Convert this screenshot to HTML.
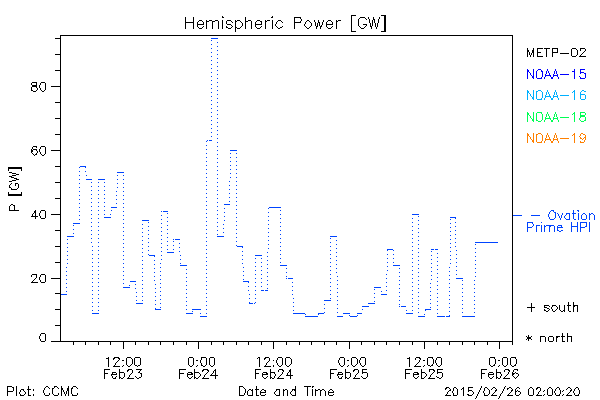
<!DOCTYPE html>
<html lang="en">
<head>
<meta charset="utf-8">
<title>Hemispheric Power [GW]</title>
<style>
html,body{margin:0;padding:0;background:#fff;}
body{width:600px;height:400px;overflow:hidden;font-family:"Liberation Sans",sans-serif;}
svg{display:block;}
</style>
</head>
<body>
<svg xmlns="http://www.w3.org/2000/svg" width="600" height="400" viewBox="0 0 600 400" shape-rendering="crispEdges" role="img">
<rect width="600" height="400" fill="#ffffff"/>
<g id="ovation-dotted" fill="#0044ff"><path d="M213 38h1v1h-1zM217 38h1v1h-1zM211 40h1v1h-1zM217 42h1v1h-1zM211 44h1v1h-1zM217 46h1v1h-1zM211 48h1v1h-1zM217 50h1v1h-1zM211 52h1v1h-1zM217 54h1v1h-1zM211 56h1v1h-1zM217 58h1v1h-1zM211 60h1v1h-1zM217 62h1v1h-1zM211 64h1v1h-1zM217 66h1v1h-1zM211 68h1v1h-1zM217 70h1v1h-1zM211 72h1v1h-1zM217 74h1v1h-1zM211 76h1v1h-1zM217 78h1v1h-1zM211 80h1v1h-1zM217 82h1v1h-1zM211 84h1v1h-1zM217 86h1v1h-1zM211 88h1v1h-1zM217 90h1v1h-1zM211 92h1v1h-1zM217 94h1v1h-1zM211 96h1v1h-1zM217 98h1v1h-1zM211 100h1v1h-1zM217 102h1v1h-1zM211 104h1v1h-1zM217 106h1v1h-1zM211 108h1v1h-1zM217 110h1v1h-1zM211 112h1v1h-1zM217 114h1v1h-1zM211 116h1v1h-1zM217 118h1v1h-1zM211 120h1v1h-1zM217 122h1v1h-1zM211 124h1v1h-1zM217 126h1v1h-1zM211 128h1v1h-1zM217 130h1v1h-1zM211 132h1v1h-1zM217 134h1v1h-1zM211 136h1v1h-1zM217 138h1v1h-1zM207 140h1v1h-1zM211 140h1v1h-1zM206 141h1v1h-1zM217 142h1v1h-1zM206 145h1v1h-1zM217 146h1v1h-1zM206 149h1v1h-1zM217 150h1v1h-1zM231 150h1v1h-1zM235 150h1v1h-1zM206 153h1v1h-1zM230 153h1v1h-1zM236 153h1v1h-1zM217 154h1v1h-1zM206 157h1v1h-1zM230 157h1v1h-1zM236 157h1v1h-1zM217 158h1v1h-1zM206 161h1v1h-1zM230 161h1v1h-1zM236 161h1v1h-1zM217 162h1v1h-1zM206 165h1v1h-1zM230 165h1v1h-1zM236 165h1v1h-1zM82 166h1v1h-1zM217 166h1v1h-1zM79 167h1v1h-1zM85 167h1v1h-1zM206 169h1v1h-1zM230 169h1v1h-1zM236 169h1v1h-1zM217 170h1v1h-1zM79 171h1v1h-1zM85 171h1v1h-1zM118 172h1v1h-1zM122 172h1v1h-1zM206 173h1v1h-1zM230 173h1v1h-1zM236 173h1v1h-1zM217 174h1v1h-1zM79 175h1v1h-1zM86 175h1v1h-1zM117 175h1v1h-1zM123 175h1v1h-1zM206 177h1v1h-1zM230 177h1v1h-1zM236 177h1v1h-1zM217 178h1v1h-1zM79 179h1v1h-1zM86 179h1v1h-1zM90 179h1v1h-1zM99 179h1v1h-1zM103 179h1v1h-1zM117 179h1v1h-1zM123 179h1v1h-1zM206 181h1v1h-1zM229 181h1v1h-1zM236 181h1v1h-1zM91 182h1v1h-1zM98 182h1v1h-1zM104 182h1v1h-1zM217 182h1v1h-1zM79 183h1v1h-1zM117 183h1v1h-1zM123 183h1v1h-1zM206 185h1v1h-1zM229 185h1v1h-1zM236 185h1v1h-1zM91 186h1v1h-1zM98 186h1v1h-1zM104 186h1v1h-1zM217 186h1v1h-1zM79 187h1v1h-1zM117 187h1v1h-1zM123 187h1v1h-1zM206 189h1v1h-1zM229 189h1v1h-1zM236 189h1v1h-1zM91 190h1v1h-1zM98 190h1v1h-1zM104 190h1v1h-1zM217 190h1v1h-1zM79 191h1v1h-1zM116 191h1v1h-1zM123 191h1v1h-1zM206 193h1v1h-1zM229 193h1v1h-1zM236 193h1v1h-1zM91 194h1v1h-1zM98 194h1v1h-1zM104 194h1v1h-1zM217 194h1v1h-1zM79 195h1v1h-1zM116 195h1v1h-1zM123 195h1v1h-1zM206 197h1v1h-1zM229 197h1v1h-1zM236 197h1v1h-1zM91 198h1v1h-1zM98 198h1v1h-1zM104 198h1v1h-1zM217 198h1v1h-1zM79 199h1v1h-1zM116 199h1v1h-1zM123 199h1v1h-1zM206 201h1v1h-1zM229 201h1v1h-1zM236 201h1v1h-1zM91 202h1v1h-1zM98 202h1v1h-1zM104 202h1v1h-1zM217 202h1v1h-1zM79 203h1v1h-1zM116 203h1v1h-1zM123 203h1v1h-1zM224 204h1v1h-1zM228 204h1v1h-1zM206 205h1v1h-1zM236 205h1v1h-1zM91 206h1v1h-1zM98 206h1v1h-1zM104 206h1v1h-1zM217 206h1v1h-1zM79 207h1v1h-1zM112 207h1v1h-1zM116 207h1v1h-1zM123 207h1v1h-1zM271 207h1v1h-1zM275 207h1v1h-1zM279 207h1v1h-1zM224 208h1v1h-1zM268 208h1v1h-1zM206 209h1v1h-1zM236 209h1v1h-1zM91 210h1v1h-1zM98 210h1v1h-1zM104 210h1v1h-1zM111 210h1v1h-1zM217 210h1v1h-1zM280 210h1v1h-1zM79 211h1v1h-1zM123 211h1v1h-1zM161 211h1v1h-1zM165 211h1v1h-1zM224 212h1v1h-1zM268 212h1v1h-1zM167 213h1v1h-1zM206 213h1v1h-1zM236 213h1v1h-1zM91 214h1v1h-1zM98 214h1v1h-1zM104 214h1v1h-1zM110 214h1v1h-1zM217 214h1v1h-1zM280 214h1v1h-1zM412 214h1v1h-1zM416 214h1v1h-1zM79 215h1v1h-1zM123 215h1v1h-1zM161 215h1v1h-1zM224 216h1v1h-1zM268 216h1v1h-1zM418 216h1v1h-1zM105 217h1v1h-1zM109 217h1v1h-1zM167 217h1v1h-1zM206 217h1v1h-1zM236 217h1v1h-1zM452 217h1v1h-1zM91 218h1v1h-1zM98 218h1v1h-1zM217 218h1v1h-1zM280 218h1v1h-1zM412 218h1v1h-1zM455 218h1v1h-1zM79 219h1v1h-1zM123 219h1v1h-1zM161 219h1v1h-1zM450 219h1v1h-1zM142 220h1v1h-1zM146 220h1v1h-1zM224 220h1v1h-1zM268 220h1v1h-1zM418 220h1v1h-1zM167 221h1v1h-1zM206 221h1v1h-1zM236 221h1v1h-1zM91 222h1v1h-1zM98 222h1v1h-1zM148 222h1v1h-1zM217 222h1v1h-1zM280 222h1v1h-1zM412 222h1v1h-1zM455 222h1v1h-1zM75 223h1v1h-1zM79 223h1v1h-1zM123 223h1v1h-1zM161 223h1v1h-1zM450 223h1v1h-1zM142 224h1v1h-1zM223 224h1v1h-1zM268 224h1v1h-1zM418 224h1v1h-1zM73 225h1v1h-1zM167 225h1v1h-1zM206 225h1v1h-1zM236 225h1v1h-1zM91 226h1v1h-1zM98 226h1v1h-1zM148 226h1v1h-1zM217 226h1v1h-1zM280 226h1v1h-1zM412 226h1v1h-1zM455 226h1v1h-1zM123 227h1v1h-1zM161 227h1v1h-1zM450 227h1v1h-1zM142 228h1v1h-1zM223 228h1v1h-1zM268 228h1v1h-1zM418 228h1v1h-1zM73 229h1v1h-1zM167 229h1v1h-1zM206 229h1v1h-1zM236 229h1v1h-1zM91 230h1v1h-1zM98 230h1v1h-1zM148 230h1v1h-1zM217 230h1v1h-1zM280 230h1v1h-1zM412 230h1v1h-1zM455 230h1v1h-1zM123 231h1v1h-1zM161 231h1v1h-1zM450 231h1v1h-1zM142 232h1v1h-1zM223 232h1v1h-1zM268 232h1v1h-1zM418 232h1v1h-1zM73 233h1v1h-1zM167 233h1v1h-1zM206 233h1v1h-1zM236 233h1v1h-1zM91 234h1v1h-1zM98 234h1v1h-1zM148 234h1v1h-1zM217 234h1v1h-1zM280 234h1v1h-1zM412 234h1v1h-1zM455 234h1v1h-1zM123 235h1v1h-1zM161 235h1v1h-1zM450 235h1v1h-1zM68 236h1v1h-1zM72 236h1v1h-1zM142 236h1v1h-1zM219 236h1v1h-1zM223 236h1v1h-1zM268 236h1v1h-1zM332 236h1v1h-1zM336 236h1v1h-1zM418 236h1v1h-1zM167 237h1v1h-1zM206 237h1v1h-1zM236 237h1v1h-1zM91 238h1v1h-1zM98 238h1v1h-1zM148 238h1v1h-1zM280 238h1v1h-1zM330 238h1v1h-1zM412 238h1v1h-1zM455 238h1v1h-1zM67 239h1v1h-1zM123 239h1v1h-1zM161 239h1v1h-1zM175 239h1v1h-1zM179 239h1v1h-1zM450 239h1v1h-1zM142 240h1v1h-1zM268 240h1v1h-1zM336 240h1v1h-1zM418 240h1v1h-1zM167 241h1v1h-1zM173 241h1v1h-1zM206 241h1v1h-1zM236 241h1v1h-1zM91 242h1v1h-1zM98 242h1v1h-1zM148 242h1v1h-1zM280 242h1v1h-1zM330 242h1v1h-1zM412 242h1v1h-1zM455 242h1v1h-1zM477 242h1v1h-1zM481 242h1v1h-1zM485 242h1v1h-1zM489 242h1v1h-1zM493 242h1v1h-1zM497 242h1v1h-1zM67 243h1v1h-1zM123 243h1v1h-1zM161 243h1v1h-1zM179 243h1v1h-1zM450 243h1v1h-1zM142 244h1v1h-1zM268 244h1v1h-1zM336 244h1v1h-1zM418 244h1v1h-1zM475 244h1v1h-1zM167 245h1v1h-1zM173 245h1v1h-1zM206 245h1v1h-1zM236 245h1v1h-1zM92 246h1v1h-1zM98 246h1v1h-1zM148 246h1v1h-1zM239 246h1v1h-1zM280 246h1v1h-1zM330 246h1v1h-1zM412 246h1v1h-1zM455 246h1v1h-1zM67 247h1v1h-1zM123 247h1v1h-1zM161 247h1v1h-1zM179 247h1v1h-1zM242 247h1v1h-1zM450 247h1v1h-1zM142 248h1v1h-1zM268 248h1v1h-1zM336 248h1v1h-1zM418 248h1v1h-1zM475 248h1v1h-1zM167 249h1v1h-1zM173 249h1v1h-1zM206 249h1v1h-1zM390 249h1v1h-1zM433 249h1v1h-1zM437 249h1v1h-1zM92 250h1v1h-1zM98 250h1v1h-1zM148 250h1v1h-1zM280 250h1v1h-1zM330 250h1v1h-1zM387 250h1v1h-1zM393 250h1v1h-1zM412 250h1v1h-1zM456 250h1v1h-1zM67 251h1v1h-1zM123 251h1v1h-1zM161 251h1v1h-1zM179 251h1v1h-1zM242 251h1v1h-1zM431 251h1v1h-1zM450 251h1v1h-1zM142 252h1v1h-1zM168 252h1v1h-1zM172 252h1v1h-1zM267 252h1v1h-1zM336 252h1v1h-1zM418 252h1v1h-1zM475 252h1v1h-1zM206 253h1v1h-1zM437 253h1v1h-1zM92 254h1v1h-1zM98 254h1v1h-1zM148 254h1v1h-1zM280 254h1v1h-1zM330 254h1v1h-1zM387 254h1v1h-1zM393 254h1v1h-1zM412 254h1v1h-1zM456 254h1v1h-1zM67 255h1v1h-1zM123 255h1v1h-1zM151 255h1v1h-1zM161 255h1v1h-1zM180 255h1v1h-1zM242 255h1v1h-1zM256 255h1v1h-1zM260 255h1v1h-1zM431 255h1v1h-1zM450 255h1v1h-1zM142 256h1v1h-1zM154 256h1v1h-1zM267 256h1v1h-1zM336 256h1v1h-1zM418 256h1v1h-1zM475 256h1v1h-1zM206 257h1v1h-1zM437 257h1v1h-1zM92 258h1v1h-1zM98 258h1v1h-1zM255 258h1v1h-1zM261 258h1v1h-1zM280 258h1v1h-1zM330 258h1v1h-1zM387 258h1v1h-1zM393 258h1v1h-1zM412 258h1v1h-1zM456 258h1v1h-1zM67 259h1v1h-1zM123 259h1v1h-1zM161 259h1v1h-1zM180 259h1v1h-1zM242 259h1v1h-1zM431 259h1v1h-1zM450 259h1v1h-1zM142 260h1v1h-1zM154 260h1v1h-1zM267 260h1v1h-1zM336 260h1v1h-1zM418 260h1v1h-1zM475 260h1v1h-1zM206 261h1v1h-1zM437 261h1v1h-1zM92 262h1v1h-1zM98 262h1v1h-1zM255 262h1v1h-1zM261 262h1v1h-1zM280 262h1v1h-1zM330 262h1v1h-1zM387 262h1v1h-1zM393 262h1v1h-1zM412 262h1v1h-1zM456 262h1v1h-1zM67 263h1v1h-1zM123 263h1v1h-1zM160 263h1v1h-1zM180 263h1v1h-1zM242 263h1v1h-1zM431 263h1v1h-1zM450 263h1v1h-1zM142 264h1v1h-1zM154 264h1v1h-1zM267 264h1v1h-1zM336 264h1v1h-1zM418 264h1v1h-1zM475 264h1v1h-1zM182 265h1v1h-1zM186 265h1v1h-1zM206 265h1v1h-1zM281 265h1v1h-1zM285 265h1v1h-1zM394 265h1v1h-1zM398 265h1v1h-1zM437 265h1v1h-1zM92 266h1v1h-1zM98 266h1v1h-1zM255 266h1v1h-1zM261 266h1v1h-1zM330 266h1v1h-1zM387 266h1v1h-1zM412 266h1v1h-1zM456 266h1v1h-1zM66 267h1v1h-1zM123 267h1v1h-1zM160 267h1v1h-1zM243 267h1v1h-1zM431 267h1v1h-1zM449 267h1v1h-1zM142 268h1v1h-1zM154 268h1v1h-1zM267 268h1v1h-1zM286 268h1v1h-1zM336 268h1v1h-1zM399 268h1v1h-1zM418 268h1v1h-1zM475 268h1v1h-1zM186 269h1v1h-1zM206 269h1v1h-1zM437 269h1v1h-1zM92 270h1v1h-1zM98 270h1v1h-1zM255 270h1v1h-1zM261 270h1v1h-1zM330 270h1v1h-1zM387 270h1v1h-1zM412 270h1v1h-1zM456 270h1v1h-1zM66 271h1v1h-1zM123 271h1v1h-1zM160 271h1v1h-1zM243 271h1v1h-1zM431 271h1v1h-1zM449 271h1v1h-1zM142 272h1v1h-1zM154 272h1v1h-1zM267 272h1v1h-1zM286 272h1v1h-1zM336 272h1v1h-1zM399 272h1v1h-1zM418 272h1v1h-1zM475 272h1v1h-1zM186 273h1v1h-1zM206 273h1v1h-1zM437 273h1v1h-1zM92 274h1v1h-1zM98 274h1v1h-1zM255 274h1v1h-1zM261 274h1v1h-1zM330 274h1v1h-1zM386 274h1v1h-1zM412 274h1v1h-1zM456 274h1v1h-1zM66 275h1v1h-1zM123 275h1v1h-1zM160 275h1v1h-1zM243 275h1v1h-1zM431 275h1v1h-1zM449 275h1v1h-1zM142 276h1v1h-1zM154 276h1v1h-1zM267 276h1v1h-1zM286 276h1v1h-1zM337 276h1v1h-1zM399 276h1v1h-1zM418 276h1v1h-1zM475 276h1v1h-1zM186 277h1v1h-1zM206 277h1v1h-1zM437 277h1v1h-1zM92 278h1v1h-1zM98 278h1v1h-1zM255 278h1v1h-1zM261 278h1v1h-1zM288 278h1v1h-1zM292 278h1v1h-1zM330 278h1v1h-1zM386 278h1v1h-1zM412 278h1v1h-1zM456 278h1v1h-1zM460 278h1v1h-1zM66 279h1v1h-1zM123 279h1v1h-1zM160 279h1v1h-1zM243 279h1v1h-1zM431 279h1v1h-1zM449 279h1v1h-1zM142 280h1v1h-1zM154 280h1v1h-1zM267 280h1v1h-1zM337 280h1v1h-1zM399 280h1v1h-1zM418 280h1v1h-1zM462 280h1v1h-1zM474 280h1v1h-1zM130 281h1v1h-1zM134 281h1v1h-1zM186 281h1v1h-1zM206 281h1v1h-1zM245 281h1v1h-1zM437 281h1v1h-1zM92 282h1v1h-1zM98 282h1v1h-1zM248 282h1v1h-1zM255 282h1v1h-1zM261 282h1v1h-1zM292 282h1v1h-1zM330 282h1v1h-1zM386 282h1v1h-1zM412 282h1v1h-1zM66 283h1v1h-1zM123 283h1v1h-1zM160 283h1v1h-1zM430 283h1v1h-1zM449 283h1v1h-1zM135 284h1v1h-1zM142 284h1v1h-1zM155 284h1v1h-1zM267 284h1v1h-1zM337 284h1v1h-1zM399 284h1v1h-1zM418 284h1v1h-1zM462 284h1v1h-1zM474 284h1v1h-1zM129 285h1v1h-1zM186 285h1v1h-1zM206 285h1v1h-1zM437 285h1v1h-1zM92 286h1v1h-1zM98 286h1v1h-1zM248 286h1v1h-1zM255 286h1v1h-1zM261 286h1v1h-1zM292 286h1v1h-1zM330 286h1v1h-1zM386 286h1v1h-1zM412 286h1v1h-1zM66 287h1v1h-1zM123 287h1v1h-1zM127 287h1v1h-1zM160 287h1v1h-1zM376 287h1v1h-1zM380 287h1v1h-1zM430 287h1v1h-1zM449 287h1v1h-1zM135 288h1v1h-1zM142 288h1v1h-1zM155 288h1v1h-1zM267 288h1v1h-1zM337 288h1v1h-1zM399 288h1v1h-1zM418 288h1v1h-1zM462 288h1v1h-1zM474 288h1v1h-1zM186 289h1v1h-1zM206 289h1v1h-1zM374 289h1v1h-1zM437 289h1v1h-1zM92 290h1v1h-1zM98 290h1v1h-1zM248 290h1v1h-1zM255 290h1v1h-1zM261 290h1v1h-1zM265 290h1v1h-1zM292 290h1v1h-1zM330 290h1v1h-1zM386 290h1v1h-1zM412 290h1v1h-1zM66 291h1v1h-1zM160 291h1v1h-1zM381 291h1v1h-1zM430 291h1v1h-1zM449 291h1v1h-1zM136 292h1v1h-1zM142 292h1v1h-1zM155 292h1v1h-1zM337 292h1v1h-1zM399 292h1v1h-1zM418 292h1v1h-1zM462 292h1v1h-1zM474 292h1v1h-1zM186 293h1v1h-1zM206 293h1v1h-1zM374 293h1v1h-1zM437 293h1v1h-1zM61 294h1v1h-1zM65 294h1v1h-1zM92 294h1v1h-1zM98 294h1v1h-1zM249 294h1v1h-1zM255 294h1v1h-1zM292 294h1v1h-1zM330 294h1v1h-1zM382 294h1v1h-1zM386 294h1v1h-1zM412 294h1v1h-1zM160 295h1v1h-1zM430 295h1v1h-1zM449 295h1v1h-1zM136 296h1v1h-1zM142 296h1v1h-1zM155 296h1v1h-1zM337 296h1v1h-1zM399 296h1v1h-1zM418 296h1v1h-1zM462 296h1v1h-1zM474 296h1v1h-1zM186 297h1v1h-1zM206 297h1v1h-1zM374 297h1v1h-1zM437 297h1v1h-1zM92 298h1v1h-1zM98 298h1v1h-1zM249 298h1v1h-1zM255 298h1v1h-1zM293 298h1v1h-1zM330 298h1v1h-1zM412 298h1v1h-1zM160 299h1v1h-1zM430 299h1v1h-1zM449 299h1v1h-1zM136 300h1v1h-1zM142 300h1v1h-1zM155 300h1v1h-1zM324 300h1v1h-1zM328 300h1v1h-1zM337 300h1v1h-1zM399 300h1v1h-1zM418 300h1v1h-1zM462 300h1v1h-1zM474 300h1v1h-1zM186 301h1v1h-1zM206 301h1v1h-1zM374 301h1v1h-1zM437 301h1v1h-1zM92 302h1v1h-1zM98 302h1v1h-1zM249 302h1v1h-1zM255 302h1v1h-1zM293 302h1v1h-1zM412 302h1v1h-1zM137 303h1v1h-1zM141 303h1v1h-1zM160 303h1v1h-1zM252 303h1v1h-1zM368 303h1v1h-1zM372 303h1v1h-1zM430 303h1v1h-1zM449 303h1v1h-1zM155 304h1v1h-1zM324 304h1v1h-1zM337 304h1v1h-1zM399 304h1v1h-1zM418 304h1v1h-1zM462 304h1v1h-1zM474 304h1v1h-1zM186 305h1v1h-1zM206 305h1v1h-1zM437 305h1v1h-1zM92 306h1v1h-1zM98 306h1v1h-1zM293 306h1v1h-1zM363 306h1v1h-1zM367 306h1v1h-1zM401 306h1v1h-1zM405 306h1v1h-1zM412 306h1v1h-1zM160 307h1v1h-1zM430 307h1v1h-1zM449 307h1v1h-1zM155 308h1v1h-1zM324 308h1v1h-1zM337 308h1v1h-1zM418 308h1v1h-1zM462 308h1v1h-1zM474 308h1v1h-1zM158 309h1v1h-1zM186 309h1v1h-1zM194 309h1v1h-1zM198 309h1v1h-1zM206 309h1v1h-1zM362 309h1v1h-1zM428 309h1v1h-1zM437 309h1v1h-1zM92 310h1v1h-1zM98 310h1v1h-1zM293 310h1v1h-1zM406 310h1v1h-1zM412 310h1v1h-1zM425 310h1v1h-1zM192 311h1v1h-1zM449 311h1v1h-1zM324 312h1v1h-1zM337 312h1v1h-1zM418 312h1v1h-1zM462 312h1v1h-1zM474 312h1v1h-1zM93 313h1v1h-1zM97 313h1v1h-1zM186 313h1v1h-1zM190 313h1v1h-1zM200 313h1v1h-1zM206 313h1v1h-1zM294 313h1v1h-1zM298 313h1v1h-1zM302 313h1v1h-1zM321 313h1v1h-1zM343 313h1v1h-1zM347 313h1v1h-1zM359 313h1v1h-1zM407 313h1v1h-1zM411 313h1v1h-1zM437 313h1v1h-1zM305 314h1v1h-1zM318 314h1v1h-1zM424 314h1v1h-1zM349 315h1v1h-1zM357 315h1v1h-1zM449 315h1v1h-1zM201 316h1v1h-1zM205 316h1v1h-1zM307 316h1v1h-1zM311 316h1v1h-1zM315 316h1v1h-1zM337 316h1v1h-1zM341 316h1v1h-1zM353 316h1v1h-1zM418 316h1v1h-1zM422 316h1v1h-1zM438 316h1v1h-1zM442 316h1v1h-1zM446 316h1v1h-1zM462 316h1v1h-1zM466 316h1v1h-1zM470 316h1v1h-1zM474 316h1v1h-1z"/></g>
<g id="ovation-bars" fill="#0044ff"><path d="M211 38h7v1h-7zM209 140h3v1h-3zM230 150h7v1h-7zM80 166h6v1h-6zM117 172h7v1h-7zM86 179h6v1h-6zM98 179h7v1h-7zM224 204h6v1h-6zM111 207h6v1h-6zM269 207h12v1h-12zM161 211h1v1h-1zM163 211h5v1h-5zM412 214h7v1h-7zM513 215h9v1h-9zM104 217h7v1h-7zM450 217h6v1h-6zM142 220h7v1h-7zM73 223h7v1h-7zM67 236h7v1h-7zM217 236h7v1h-7zM330 236h7v1h-7zM173 239h1v1h-1zM175 239h5v1h-5zM475 242h23v1h-23zM237 246h6v1h-6zM387 249h6v1h-6zM431 249h3v1h-3zM435 249h3v1h-3zM167 252h7v1h-7zM149 255h6v1h-6zM255 255h7v1h-7zM180 265h7v1h-7zM280 265h7v1h-7zM393 265h7v1h-7zM286 278h1v1h-1zM288 278h5v1h-5zM456 278h7v1h-7zM130 281h6v1h-6zM243 281h6v1h-6zM123 287h7v1h-7zM374 287h7v1h-7zM261 290h3v1h-3zM265 290h3v1h-3zM60 294h7v1h-7zM381 294h6v1h-6zM324 300h7v1h-7zM136 303h7v1h-7zM249 303h4v1h-4zM254 303h1v1h-1zM368 303h7v1h-7zM362 306h7v1h-7zM399 306h1v1h-1zM401 306h5v1h-5zM155 309h6v1h-6zM192 309h9v1h-9zM425 309h6v1h-6zM92 313h7v1h-7zM186 313h7v1h-7zM293 313h12v1h-12zM318 313h6v1h-6zM343 313h7v1h-7zM357 313h5v1h-5zM406 313h7v1h-7zM200 316h7v1h-7zM305 316h13v1h-13zM337 316h6v1h-6zM350 316h7v1h-7zM418 316h7v1h-7zM437 316h8v1h-8zM446 316h4v1h-4zM462 316h13v1h-13z"/></g>
<g id="axes" fill="#000000"><path d="M60 35h453v1h-453zM60 36h1v1h-1zM512 36h1v1h-1zM60 37h1v1h-1zM512 37h1v1h-1zM55 38h6v1h-6zM512 38h1v1h-1zM60 39h1v1h-1zM512 39h1v1h-1zM60 40h1v1h-1zM512 40h1v1h-1zM60 41h1v1h-1zM512 41h1v1h-1zM60 42h1v1h-1zM512 42h1v1h-1zM60 43h1v1h-1zM512 43h1v1h-1zM60 44h1v1h-1zM512 44h1v1h-1zM60 45h1v1h-1zM512 45h1v1h-1zM60 46h1v1h-1zM512 46h1v1h-1zM60 47h1v1h-1zM512 47h1v1h-1zM60 48h1v1h-1zM512 48h1v1h-1zM60 49h1v1h-1zM512 49h1v1h-1zM60 50h1v1h-1zM512 50h1v1h-1zM60 51h1v1h-1zM512 51h1v1h-1zM60 52h1v1h-1zM512 52h1v1h-1zM60 53h1v1h-1zM512 53h1v1h-1zM55 54h6v1h-6zM512 54h1v1h-1zM60 55h1v1h-1zM512 55h1v1h-1zM60 56h1v1h-1zM512 56h1v1h-1zM60 57h1v1h-1zM512 57h1v1h-1zM60 58h1v1h-1zM512 58h1v1h-1zM60 59h1v1h-1zM512 59h1v1h-1zM60 60h1v1h-1zM512 60h1v1h-1zM60 61h1v1h-1zM512 61h1v1h-1zM60 62h1v1h-1zM512 62h1v1h-1zM60 63h1v1h-1zM512 63h1v1h-1zM60 64h1v1h-1zM512 64h1v1h-1zM60 65h1v1h-1zM512 65h1v1h-1zM60 66h1v1h-1zM512 66h1v1h-1zM60 67h1v1h-1zM512 67h1v1h-1zM60 68h1v1h-1zM512 68h1v1h-1zM60 69h1v1h-1zM512 69h1v1h-1zM55 70h6v1h-6zM512 70h1v1h-1zM60 71h1v1h-1zM512 71h1v1h-1zM60 72h1v1h-1zM512 72h1v1h-1zM60 73h1v1h-1zM512 73h1v1h-1zM60 74h1v1h-1zM512 74h1v1h-1zM60 75h1v1h-1zM512 75h1v1h-1zM60 76h1v1h-1zM512 76h1v1h-1zM60 77h1v1h-1zM512 77h1v1h-1zM60 78h1v1h-1zM512 78h1v1h-1zM60 79h1v1h-1zM512 79h1v1h-1zM60 80h1v1h-1zM512 80h1v1h-1zM60 81h1v1h-1zM512 81h1v1h-1zM60 82h1v1h-1zM512 82h1v1h-1zM60 83h1v1h-1zM512 83h1v1h-1zM60 84h1v1h-1zM512 84h1v1h-1zM60 85h1v1h-1zM512 85h1v1h-1zM51 86h10v1h-10zM512 86h1v1h-1zM60 87h1v1h-1zM512 87h1v1h-1zM60 88h1v1h-1zM512 88h1v1h-1zM60 89h1v1h-1zM512 89h1v1h-1zM60 90h1v1h-1zM512 90h1v1h-1zM60 91h1v1h-1zM512 91h1v1h-1zM60 92h1v1h-1zM512 92h1v1h-1zM60 93h1v1h-1zM512 93h1v1h-1zM60 94h1v1h-1zM512 94h1v1h-1zM60 95h1v1h-1zM512 95h1v1h-1zM60 96h1v1h-1zM512 96h1v1h-1zM60 97h1v1h-1zM512 97h1v1h-1zM60 98h1v1h-1zM512 98h1v1h-1zM60 99h1v1h-1zM512 99h1v1h-1zM60 100h1v1h-1zM512 100h1v1h-1zM60 101h1v1h-1zM512 101h1v1h-1zM55 102h6v1h-6zM512 102h1v1h-1zM60 103h1v1h-1zM512 103h1v1h-1zM60 104h1v1h-1zM512 104h1v1h-1zM60 105h1v1h-1zM512 105h1v1h-1zM60 106h1v1h-1zM512 106h1v1h-1zM60 107h1v1h-1zM512 107h1v1h-1zM60 108h1v1h-1zM512 108h1v1h-1zM60 109h1v1h-1zM512 109h1v1h-1zM60 110h1v1h-1zM512 110h1v1h-1zM60 111h1v1h-1zM512 111h1v1h-1zM60 112h1v1h-1zM512 112h1v1h-1zM60 113h1v1h-1zM512 113h1v1h-1zM60 114h1v1h-1zM512 114h1v1h-1zM60 115h1v1h-1zM512 115h1v1h-1zM60 116h1v1h-1zM512 116h1v1h-1zM60 117h1v1h-1zM512 117h1v1h-1zM55 118h6v1h-6zM512 118h1v1h-1zM60 119h1v1h-1zM512 119h1v1h-1zM60 120h1v1h-1zM512 120h1v1h-1zM60 121h1v1h-1zM512 121h1v1h-1zM60 122h1v1h-1zM512 122h1v1h-1zM60 123h1v1h-1zM512 123h1v1h-1zM60 124h1v1h-1zM512 124h1v1h-1zM60 125h1v1h-1zM512 125h1v1h-1zM60 126h1v1h-1zM512 126h1v1h-1zM60 127h1v1h-1zM512 127h1v1h-1zM60 128h1v1h-1zM512 128h1v1h-1zM60 129h1v1h-1zM512 129h1v1h-1zM60 130h1v1h-1zM512 130h1v1h-1zM60 131h1v1h-1zM512 131h1v1h-1zM60 132h1v1h-1zM512 132h1v1h-1zM60 133h1v1h-1zM512 133h1v1h-1zM55 134h6v1h-6zM512 134h1v1h-1zM60 135h1v1h-1zM512 135h1v1h-1zM60 136h1v1h-1zM512 136h1v1h-1zM60 137h1v1h-1zM512 137h1v1h-1zM60 138h1v1h-1zM512 138h1v1h-1zM60 139h1v1h-1zM512 139h1v1h-1zM60 140h1v1h-1zM512 140h1v1h-1zM60 141h1v1h-1zM512 141h1v1h-1zM60 142h1v1h-1zM512 142h1v1h-1zM60 143h1v1h-1zM512 143h1v1h-1zM60 144h1v1h-1zM512 144h1v1h-1zM60 145h1v1h-1zM512 145h1v1h-1zM60 146h1v1h-1zM512 146h1v1h-1zM60 147h1v1h-1zM512 147h1v1h-1zM60 148h1v1h-1zM512 148h1v1h-1zM60 149h1v1h-1zM512 149h1v1h-1zM51 150h10v1h-10zM512 150h1v1h-1zM60 151h1v1h-1zM512 151h1v1h-1zM60 152h1v1h-1zM512 152h1v1h-1zM60 153h1v1h-1zM512 153h1v1h-1zM60 154h1v1h-1zM512 154h1v1h-1zM60 155h1v1h-1zM512 155h1v1h-1zM60 156h1v1h-1zM512 156h1v1h-1zM60 157h1v1h-1zM512 157h1v1h-1zM60 158h1v1h-1zM512 158h1v1h-1zM60 159h1v1h-1zM512 159h1v1h-1zM60 160h1v1h-1zM512 160h1v1h-1zM60 161h1v1h-1zM512 161h1v1h-1zM60 162h1v1h-1zM512 162h1v1h-1zM60 163h1v1h-1zM512 163h1v1h-1zM60 164h1v1h-1zM512 164h1v1h-1zM60 165h1v1h-1zM512 165h1v1h-1zM55 166h6v1h-6zM512 166h1v1h-1zM60 167h1v1h-1zM512 167h1v1h-1zM60 168h1v1h-1zM512 168h1v1h-1zM60 169h1v1h-1zM512 169h1v1h-1zM60 170h1v1h-1zM512 170h1v1h-1zM60 171h1v1h-1zM512 171h1v1h-1zM60 172h1v1h-1zM512 172h1v1h-1zM60 173h1v1h-1zM512 173h1v1h-1zM60 174h1v1h-1zM512 174h1v1h-1zM60 175h1v1h-1zM512 175h1v1h-1zM60 176h1v1h-1zM512 176h1v1h-1zM60 177h1v1h-1zM512 177h1v1h-1zM60 178h1v1h-1zM512 178h1v1h-1zM60 179h1v1h-1zM512 179h1v1h-1zM60 180h1v1h-1zM512 180h1v1h-1zM60 181h1v1h-1zM512 181h1v1h-1zM55 182h6v1h-6zM512 182h1v1h-1zM60 183h1v1h-1zM512 183h1v1h-1zM60 184h1v1h-1zM512 184h1v1h-1zM60 185h1v1h-1zM512 185h1v1h-1zM60 186h1v1h-1zM512 186h1v1h-1zM60 187h1v1h-1zM512 187h1v1h-1zM60 188h1v1h-1zM512 188h1v1h-1zM60 189h1v1h-1zM512 189h1v1h-1zM60 190h1v1h-1zM512 190h1v1h-1zM60 191h1v1h-1zM512 191h1v1h-1zM60 192h1v1h-1zM512 192h1v1h-1zM60 193h1v1h-1zM512 193h1v1h-1zM60 194h1v1h-1zM512 194h1v1h-1zM60 195h1v1h-1zM512 195h1v1h-1zM60 196h1v1h-1zM512 196h1v1h-1zM60 197h1v1h-1zM512 197h1v1h-1zM55 198h6v1h-6zM512 198h1v1h-1zM60 199h1v1h-1zM512 199h1v1h-1zM60 200h1v1h-1zM512 200h1v1h-1zM60 201h1v1h-1zM512 201h1v1h-1zM60 202h1v1h-1zM512 202h1v1h-1zM60 203h1v1h-1zM512 203h1v1h-1zM60 204h1v1h-1zM512 204h1v1h-1zM60 205h1v1h-1zM512 205h1v1h-1zM60 206h1v1h-1zM512 206h1v1h-1zM60 207h1v1h-1zM512 207h1v1h-1zM60 208h1v1h-1zM512 208h1v1h-1zM60 209h1v1h-1zM512 209h1v1h-1zM60 210h1v1h-1zM512 210h1v1h-1zM60 211h1v1h-1zM512 211h1v1h-1zM60 212h1v1h-1zM512 212h1v1h-1zM60 213h1v1h-1zM512 213h1v1h-1zM51 214h10v1h-10zM512 214h1v1h-1zM60 215h1v1h-1zM512 215h1v1h-1zM60 216h1v1h-1zM512 216h1v1h-1zM60 217h1v1h-1zM512 217h1v1h-1zM60 218h1v1h-1zM512 218h1v1h-1zM60 219h1v1h-1zM512 219h1v1h-1zM60 220h1v1h-1zM512 220h1v1h-1zM60 221h1v1h-1zM512 221h1v1h-1zM60 222h1v1h-1zM512 222h1v1h-1zM60 223h1v1h-1zM512 223h1v1h-1zM60 224h1v1h-1zM512 224h1v1h-1zM60 225h1v1h-1zM512 225h1v1h-1zM60 226h1v1h-1zM512 226h1v1h-1zM60 227h1v1h-1zM512 227h1v1h-1zM60 228h1v1h-1zM512 228h1v1h-1zM60 229h1v1h-1zM512 229h1v1h-1zM55 230h6v1h-6zM512 230h1v1h-1zM60 231h1v1h-1zM512 231h1v1h-1zM60 232h1v1h-1zM512 232h1v1h-1zM60 233h1v1h-1zM512 233h1v1h-1zM60 234h1v1h-1zM512 234h1v1h-1zM60 235h1v1h-1zM512 235h1v1h-1zM60 236h1v1h-1zM512 236h1v1h-1zM60 237h1v1h-1zM512 237h1v1h-1zM60 238h1v1h-1zM512 238h1v1h-1zM60 239h1v1h-1zM512 239h1v1h-1zM60 240h1v1h-1zM512 240h1v1h-1zM60 241h1v1h-1zM512 241h1v1h-1zM60 242h1v1h-1zM512 242h1v1h-1zM60 243h1v1h-1zM512 243h1v1h-1zM60 244h1v1h-1zM512 244h1v1h-1zM60 245h1v1h-1zM512 245h1v1h-1zM55 246h6v1h-6zM512 246h1v1h-1zM60 247h1v1h-1zM512 247h1v1h-1zM60 248h1v1h-1zM512 248h1v1h-1zM60 249h1v1h-1zM512 249h1v1h-1zM60 250h1v1h-1zM512 250h1v1h-1zM60 251h1v1h-1zM512 251h1v1h-1zM60 252h1v1h-1zM512 252h1v1h-1zM60 253h1v1h-1zM512 253h1v1h-1zM60 254h1v1h-1zM512 254h1v1h-1zM60 255h1v1h-1zM512 255h1v1h-1zM60 256h1v1h-1zM512 256h1v1h-1zM60 257h1v1h-1zM512 257h1v1h-1zM60 258h1v1h-1zM512 258h1v1h-1zM60 259h1v1h-1zM512 259h1v1h-1zM60 260h1v1h-1zM512 260h1v1h-1zM60 261h1v1h-1zM512 261h1v1h-1zM55 262h6v1h-6zM512 262h1v1h-1zM60 263h1v1h-1zM512 263h1v1h-1zM60 264h1v1h-1zM512 264h1v1h-1zM60 265h1v1h-1zM512 265h1v1h-1zM60 266h1v1h-1zM512 266h1v1h-1zM60 267h1v1h-1zM512 267h1v1h-1zM60 268h1v1h-1zM512 268h1v1h-1zM60 269h1v1h-1zM512 269h1v1h-1zM60 270h1v1h-1zM512 270h1v1h-1zM60 271h1v1h-1zM512 271h1v1h-1zM60 272h1v1h-1zM512 272h1v1h-1zM60 273h1v1h-1zM512 273h1v1h-1zM60 274h1v1h-1zM512 274h1v1h-1zM60 275h1v1h-1zM512 275h1v1h-1zM60 276h1v1h-1zM512 276h1v1h-1zM60 277h1v1h-1zM512 277h1v1h-1zM51 278h10v1h-10zM512 278h1v1h-1zM60 279h1v1h-1zM512 279h1v1h-1zM60 280h1v1h-1zM512 280h1v1h-1zM60 281h1v1h-1zM512 281h1v1h-1zM60 282h1v1h-1zM512 282h1v1h-1zM60 283h1v1h-1zM512 283h1v1h-1zM60 284h1v1h-1zM512 284h1v1h-1zM60 285h1v1h-1zM512 285h1v1h-1zM60 286h1v1h-1zM512 286h1v1h-1zM60 287h1v1h-1zM512 287h1v1h-1zM60 288h1v1h-1zM512 288h1v1h-1zM60 289h1v1h-1zM512 289h1v1h-1zM60 290h1v1h-1zM512 290h1v1h-1zM60 291h1v1h-1zM512 291h1v1h-1zM60 292h1v1h-1zM512 292h1v1h-1zM55 293h6v1h-6zM512 293h1v1h-1zM60 294h1v1h-1zM512 294h1v1h-1zM60 295h1v1h-1zM512 295h1v1h-1zM60 296h1v1h-1zM512 296h1v1h-1zM60 297h1v1h-1zM512 297h1v1h-1zM60 298h1v1h-1zM512 298h1v1h-1zM60 299h1v1h-1zM512 299h1v1h-1zM60 300h1v1h-1zM512 300h1v1h-1zM60 301h1v1h-1zM512 301h1v1h-1zM60 302h1v1h-1zM512 302h1v1h-1zM60 303h1v1h-1zM512 303h1v1h-1zM60 304h1v1h-1zM512 304h1v1h-1zM60 305h1v1h-1zM512 305h1v1h-1zM60 306h1v1h-1zM512 306h1v1h-1zM60 307h1v1h-1zM512 307h1v1h-1zM60 308h1v1h-1zM512 308h1v1h-1zM55 309h6v1h-6zM512 309h1v1h-1zM60 310h1v1h-1zM512 310h1v1h-1zM60 311h1v1h-1zM512 311h1v1h-1zM60 312h1v1h-1zM512 312h1v1h-1zM60 313h1v1h-1zM512 313h1v1h-1zM60 314h1v1h-1zM512 314h1v1h-1zM60 315h1v1h-1zM512 315h1v1h-1zM60 316h1v1h-1zM512 316h1v1h-1zM60 317h1v1h-1zM512 317h1v1h-1zM60 318h1v1h-1zM512 318h1v1h-1zM60 319h1v1h-1zM512 319h1v1h-1zM60 320h1v1h-1zM512 320h1v1h-1zM60 321h1v1h-1zM512 321h1v1h-1zM60 322h1v1h-1zM512 322h1v1h-1zM60 323h1v1h-1zM512 323h1v1h-1zM60 324h1v1h-1zM512 324h1v1h-1zM55 325h6v1h-6zM512 325h1v1h-1zM60 326h1v1h-1zM512 326h1v1h-1zM60 327h1v1h-1zM512 327h1v1h-1zM60 328h1v1h-1zM512 328h1v1h-1zM60 329h1v1h-1zM512 329h1v1h-1zM60 330h1v1h-1zM512 330h1v1h-1zM60 331h1v1h-1zM512 331h1v1h-1zM60 332h1v1h-1zM512 332h1v1h-1zM60 333h1v1h-1zM512 333h1v1h-1zM60 334h1v1h-1zM512 334h1v1h-1zM60 335h1v1h-1zM512 335h1v1h-1zM60 336h1v1h-1zM512 336h1v1h-1zM60 337h1v1h-1zM512 337h1v1h-1zM60 338h1v1h-1zM512 338h1v1h-1zM60 339h1v1h-1zM512 339h1v1h-1zM60 340h1v1h-1zM512 340h1v1h-1zM51 341h462v1h-462zM73 342h1v1h-1zM85 342h1v1h-1zM98 342h1v1h-1zM110 342h1v1h-1zM123 342h1v1h-1zM135 342h1v1h-1zM148 342h1v1h-1zM160 342h1v1h-1zM173 342h1v1h-1zM186 342h1v1h-1zM198 342h1v1h-1zM211 342h1v1h-1zM223 342h1v1h-1zM236 342h1v1h-1zM248 342h1v1h-1zM261 342h1v1h-1zM273 342h1v1h-1zM286 342h1v1h-1zM299 342h1v1h-1zM311 342h1v1h-1zM324 342h1v1h-1zM336 342h1v1h-1zM349 342h1v1h-1zM361 342h1v1h-1zM374 342h1v1h-1zM386 342h1v1h-1zM399 342h1v1h-1zM412 342h1v1h-1zM424 342h1v1h-1zM437 342h1v1h-1zM449 342h1v1h-1zM462 342h1v1h-1zM474 342h1v1h-1zM487 342h1v1h-1zM499 342h1v1h-1zM512 342h1v1h-1zM73 343h1v1h-1zM85 343h1v1h-1zM98 343h1v1h-1zM110 343h1v1h-1zM123 343h1v1h-1zM135 343h1v1h-1zM148 343h1v1h-1zM160 343h1v1h-1zM173 343h1v1h-1zM186 343h1v1h-1zM198 343h1v1h-1zM211 343h1v1h-1zM223 343h1v1h-1zM236 343h1v1h-1zM248 343h1v1h-1zM261 343h1v1h-1zM273 343h1v1h-1zM286 343h1v1h-1zM299 343h1v1h-1zM311 343h1v1h-1zM324 343h1v1h-1zM336 343h1v1h-1zM349 343h1v1h-1zM361 343h1v1h-1zM374 343h1v1h-1zM386 343h1v1h-1zM399 343h1v1h-1zM412 343h1v1h-1zM424 343h1v1h-1zM437 343h1v1h-1zM449 343h1v1h-1zM462 343h1v1h-1zM474 343h1v1h-1zM487 343h1v1h-1zM499 343h1v1h-1zM512 343h1v1h-1zM73 344h1v1h-1zM85 344h1v1h-1zM98 344h1v1h-1zM110 344h1v1h-1zM123 344h1v1h-1zM135 344h1v1h-1zM148 344h1v1h-1zM160 344h1v1h-1zM173 344h1v1h-1zM186 344h1v1h-1zM198 344h1v1h-1zM211 344h1v1h-1zM223 344h1v1h-1zM236 344h1v1h-1zM248 344h1v1h-1zM261 344h1v1h-1zM273 344h1v1h-1zM286 344h1v1h-1zM299 344h1v1h-1zM311 344h1v1h-1zM324 344h1v1h-1zM336 344h1v1h-1zM349 344h1v1h-1zM361 344h1v1h-1zM374 344h1v1h-1zM386 344h1v1h-1zM399 344h1v1h-1zM412 344h1v1h-1zM424 344h1v1h-1zM437 344h1v1h-1zM449 344h1v1h-1zM462 344h1v1h-1zM474 344h1v1h-1zM487 344h1v1h-1zM499 344h1v1h-1zM512 344h1v1h-1zM123 345h1v1h-1zM198 345h1v1h-1zM273 345h1v1h-1zM349 345h1v1h-1zM424 345h1v1h-1zM499 345h1v1h-1zM123 346h1v1h-1zM198 346h1v1h-1zM273 346h1v1h-1zM349 346h1v1h-1zM424 346h1v1h-1zM499 346h1v1h-1zM123 347h1v1h-1zM198 347h1v1h-1zM273 347h1v1h-1zM349 347h1v1h-1zM424 347h1v1h-1zM499 347h1v1h-1zM123 348h1v1h-1zM198 348h1v1h-1zM273 348h1v1h-1zM349 348h1v1h-1zM424 348h1v1h-1zM499 348h1v1h-1z"/></g>
<g id="title" fill="#000000"><title>Hemispheric Power [GW]</title><path d="M185 17v12h1v-12zM186 22v1h1v-1zM187 22v1h1v-1zM188 22v1h1v-1zM189 22v1h1v-1zM190 22v1h1v-1zM191 22v1h1v-1zM192 22v1h1v-1zM193 17v12h1v-12zM197 22v5h1v-5zM198 21v1h1v-1zM198 24v1h1v-1zM198 27v1h1v-1zM199 20v1h1v-1zM199 24v1h1v-1zM199 28v1h1v-1zM200 20v1h1v-1zM200 24v1h1v-1zM200 28v1h1v-1zM201 20v1h1v-1zM201 24v1h1v-1zM201 28v1h1v-1zM202 21v1h1v-1zM202 24v1h1v-1zM202 27v1h1v-1zM203 22v3h1v-3zM203 26v1h1v-1zM206 20v9h1v-9zM207 21v1h1v-1zM208 21v1h1v-1zM209 20v1h1v-1zM210 20v1h1v-1zM211 20v1h1v-1zM212 21v8h1v-8zM213 21v1h1v-1zM214 21v1h1v-1zM215 20v1h1v-1zM216 20v1h1v-1zM217 20v1h1v-1zM218 21v8h1v-8zM222 16v2h1v-2zM222 20v9h1v-9zM223 17v1h1v-1zM226 21v3h1v-3zM226 26v2h1v-2zM227 20v1h1v-1zM227 24v1h1v-1zM227 27v1h1v-1zM228 20v1h1v-1zM228 24v1h1v-1zM228 28v1h1v-1zM229 20v1h1v-1zM229 24v1h1v-1zM229 28v1h1v-1zM230 20v1h1v-1zM230 24v1h1v-1zM230 28v1h1v-1zM231 21v1h1v-1zM231 25v1h1v-1zM231 27v1h1v-1zM232 22v1h1v-1zM232 26v1h1v-1zM235 20v12h1v-12zM236 21v1h1v-1zM236 27v1h1v-1zM237 20v1h1v-1zM237 28v1h1v-1zM238 20v1h1v-1zM238 28v1h1v-1zM239 20v1h1v-1zM239 28v1h1v-1zM240 21v1h1v-1zM240 27v1h1v-1zM241 22v1h1v-1zM241 26v1h1v-1zM242 23v3h1v-3zM245 17v12h1v-12zM246 21v1h1v-1zM247 21v1h1v-1zM248 20v1h1v-1zM249 20v1h1v-1zM250 20v1h1v-1zM251 21v8h1v-8zM255 22v5h1v-5zM256 21v1h1v-1zM256 24v1h1v-1zM256 27v1h1v-1zM257 20v1h1v-1zM257 24v1h1v-1zM257 28v1h1v-1zM258 20v1h1v-1zM258 24v1h1v-1zM258 28v1h1v-1zM259 20v1h1v-1zM259 24v1h1v-1zM259 28v1h1v-1zM260 21v1h1v-1zM260 24v1h1v-1zM260 27v1h1v-1zM261 21v4h1v-4zM261 26v1h1v-1zM265 20v9h1v-9zM266 21v1h1v-1zM267 20v1h1v-1zM268 20v1h1v-1zM269 20v1h1v-1zM271 17v1h1v-1zM272 16v2h1v-2zM272 20v9h1v-9zM275 24v2h1v-2zM276 22v2h1v-2zM276 26v1h1v-1zM277 21v1h1v-1zM277 27v1h1v-1zM278 20v1h1v-1zM278 28v1h1v-1zM279 20v1h1v-1zM279 28v1h1v-1zM280 20v1h1v-1zM280 27v1h1v-1zM281 21v1h1v-1zM281 27v1h1v-1zM282 22v1h1v-1zM282 26v1h1v-1zM294 17v12h1v-12zM295 17v1h1v-1zM295 22v1h1v-1zM296 17v1h1v-1zM296 22v1h1v-1zM297 17v1h1v-1zM297 22v1h1v-1zM298 17v1h1v-1zM298 22v1h1v-1zM299 17v1h1v-1zM299 22v1h1v-1zM300 17v2h1v-2zM300 21v2h1v-2zM301 19v2h1v-2zM304 24v2h1v-2zM305 22v2h1v-2zM305 26v1h1v-1zM306 21v1h1v-1zM306 27v1h1v-1zM307 20v1h1v-1zM307 28v1h1v-1zM308 20v1h1v-1zM308 28v1h1v-1zM309 21v1h1v-1zM309 27v1h1v-1zM310 22v1h1v-1zM310 26v1h1v-1zM311 23v3h1v-3zM314 20v2h1v-2zM315 22v4h1v-4zM316 26v3h1v-3zM317 23v4h1v-4zM318 20v3h1v-3zM319 22v4h1v-4zM320 26v3h1v-3zM321 25v2h1v-2zM322 22v3h1v-3zM323 20v2h1v-2zM326 22v5h1v-5zM327 21v1h1v-1zM327 24v1h1v-1zM327 27v1h1v-1zM328 20v1h1v-1zM328 24v1h1v-1zM328 28v1h1v-1zM329 20v1h1v-1zM329 24v1h1v-1zM329 28v1h1v-1zM330 20v1h1v-1zM330 24v1h1v-1zM330 28v1h1v-1zM331 21v1h1v-1zM331 24v1h1v-1zM331 27v1h1v-1zM332 22v3h1v-3zM332 26v1h1v-1zM336 20v9h1v-9zM337 21v1h1v-1zM338 20v1h1v-1zM339 20v1h1v-1zM340 20v1h1v-1zM351 15v17h1v-17zM352 15v1h1v-1zM352 31v1h1v-1zM353 15v1h1v-1zM353 31v1h1v-1zM354 15v1h1v-1zM354 31v1h1v-1zM355 15v1h1v-1zM355 31v1h1v-1zM358 19v7h1v-7zM359 18v1h1v-1zM359 26v1h1v-1zM360 17v1h1v-1zM360 27v1h1v-1zM361 17v1h1v-1zM361 28v1h1v-1zM362 17v1h1v-1zM362 28v1h1v-1zM363 17v1h1v-1zM363 24v1h1v-1zM363 28v1h1v-1zM364 17v1h1v-1zM364 24v1h1v-1zM364 27v1h1v-1zM365 18v1h1v-1zM365 24v1h1v-1zM365 26v1h1v-1zM366 19v1h1v-1zM366 24v2h1v-2zM368 17v2h1v-2zM369 19v4h1v-4zM370 23v4h1v-4zM371 26v3h1v-3zM372 20v6h1v-6zM373 17v3h1v-3zM374 19v4h1v-4zM375 23v4h1v-4zM376 27v2h1v-2zM377 23v4h1v-4zM378 19v4h1v-4zM379 17v2h1v-2zM381 15v1h1v-1zM381 31v1h1v-1zM382 15v1h1v-1zM382 31v1h1v-1zM383 15v1h1v-1zM383 31v1h1v-1zM384 15v17h1v-17zM385 15v17h1v-17z"/></g>
<g id="ytick0" fill="#000000"><title>0</title><path d="M39 336v3h1v-3zM40 334v2h1v-2zM40 339v2h1v-2zM41 333v1h1v-1zM41 341v1h1v-1zM42 333v1h1v-1zM42 341v1h1v-1zM43 333v1h1v-1zM43 341v1h1v-1zM44 333v1h1v-1zM44 341v1h1v-1zM45 334v7h1v-7z"/></g>
<g id="ytick20" fill="#000000"><title>20</title><path d="M32 274h5v1h-5zM41 274h4v1h-4zM31 275h1v1h-1zM36 275h1v1h-1zM40 275h1v1h-1zM45 275h1v1h-1zM31 276h1v1h-1zM36 276h1v1h-1zM40 276h1v1h-1zM45 276h1v1h-1zM36 277h1v1h-1zM39 277h1v1h-1zM45 277h1v1h-1zM35 278h1v1h-1zM39 278h1v1h-1zM45 278h1v1h-1zM34 279h1v1h-1zM39 279h1v1h-1zM45 279h1v1h-1zM33 280h1v1h-1zM40 280h1v1h-1zM45 280h1v1h-1zM32 281h1v1h-1zM40 281h1v1h-1zM45 281h1v1h-1zM31 282h7v1h-7zM41 282h4v1h-4z"/></g>
<g id="ytick40" fill="#000000"><title>40</title><path d="M31 216v1h1v-1zM32 214v3h1v-3zM33 213v1h1v-1zM33 216v1h1v-1zM34 211v2h1v-2zM34 216v1h1v-1zM35 210v9h1v-9zM36 216v1h1v-1zM37 216v1h1v-1zM39 213v3h1v-3zM40 211v2h1v-2zM40 216v2h1v-2zM41 210v1h1v-1zM41 218v1h1v-1zM42 210v1h1v-1zM42 218v1h1v-1zM43 210v1h1v-1zM43 218v1h1v-1zM44 210v1h1v-1zM44 218v1h1v-1zM45 211v7h1v-7z"/></g>
<g id="ytick60" fill="#000000"><title>60</title><path d="M31 149v4h1v-4zM32 147v2h1v-2zM32 150v2h1v-2zM32 153v1h1v-1zM33 146v1h1v-1zM33 149v1h1v-1zM33 154v1h1v-1zM34 146v1h1v-1zM34 149v1h1v-1zM34 155v1h1v-1zM35 146v1h1v-1zM35 149v1h1v-1zM35 154v1h1v-1zM36 146v2h1v-2zM36 149v2h1v-2zM36 153v2h1v-2zM37 151v2h1v-2zM39 149v3h1v-3zM40 147v2h1v-2zM40 152v2h1v-2zM41 146v1h1v-1zM41 154v1h1v-1zM42 146v1h1v-1zM42 155v1h1v-1zM43 146v1h1v-1zM43 155v1h1v-1zM44 146v1h1v-1zM44 154v1h1v-1zM45 147v7h1v-7z"/></g>
<g id="ytick80" fill="#000000"><title>80</title><path d="M31 83v2h1v-2zM31 87v4h1v-4zM32 82v1h1v-1zM32 85v2h1v-2zM32 90v1h1v-1zM33 82v1h1v-1zM33 85v2h1v-2zM33 91v1h1v-1zM34 82v1h1v-1zM34 85v2h1v-2zM34 91v1h1v-1zM35 82v1h1v-1zM35 85v2h1v-2zM35 91v1h1v-1zM36 82v6h1v-6zM36 90v1h1v-1zM37 88v2h1v-2zM39 85v3h1v-3zM40 83v2h1v-2zM40 88v2h1v-2zM41 82v1h1v-1zM41 90v1h1v-1zM42 82v1h1v-1zM42 91v1h1v-1zM43 82v1h1v-1zM43 91v1h1v-1zM44 82v1h1v-1zM44 90v1h1v-1zM45 83v7h1v-7z"/></g>
<g id="ytitle" fill="#000000"><title>P [GW]</title><path d="M8 167h14v1h-14zM8 168h14v1h-14zM8 169h1v1h-1zM21 169h1v1h-1zM8 170h1v1h-1zM21 170h1v1h-1zM9 172h3v1h-3zM12 173h4v1h-4zM16 174h3v1h-3zM12 175h4v1h-4zM9 176h3v1h-3zM11 177h3v1h-3zM14 178h3v1h-3zM16 179h3v1h-3zM12 180h4v1h-4zM9 181h3v1h-3zM11 183h1v1h-1zM15 183h3v1h-3zM10 184h1v1h-1zM15 184h1v1h-1zM18 184h1v1h-1zM9 185h1v1h-1zM15 185h1v1h-1zM18 185h1v1h-1zM9 186h1v1h-1zM18 186h1v1h-1zM9 187h2v1h-2zM18 187h1v1h-1zM11 188h1v1h-1zM17 188h1v1h-1zM11 189h6v1h-6zM8 192h1v1h-1zM21 192h1v1h-1zM8 193h1v1h-1zM21 193h1v1h-1zM8 194h14v1h-14zM8 195h14v1h-14zM11 204h2v1h-2zM10 205h1v1h-1zM13 205h2v1h-2zM9 206h1v1h-1zM14 206h1v1h-1zM9 207h1v1h-1zM14 207h1v1h-1zM9 208h1v1h-1zM14 208h1v1h-1zM9 209h1v1h-1zM14 209h1v1h-1zM9 210h10v1h-10z"/></g>
<g id="xtick5" fill="#000000"><title>12:00 Feb23</title><path d="M104 369v10h1v-10zM105 369v1h1v-1zM105 373v1h1v-1zM106 358v1h1v-1zM106 369v1h1v-1zM106 373v1h1v-1zM107 358v1h1v-1zM107 369v1h1v-1zM107 373v1h1v-1zM108 357v10h1v-10zM108 369v1h1v-1zM109 369v1h1v-1zM111 374v2h1v-2zM112 372v3h1v-3zM112 376v2h1v-2zM113 358v2h1v-2zM113 366v1h1v-1zM113 372v1h1v-1zM113 374v1h1v-1zM113 378v1h1v-1zM114 357v2h1v-2zM114 365v2h1v-2zM114 372v1h1v-1zM114 374v1h1v-1zM114 378v1h1v-1zM115 357v1h1v-1zM115 363v2h1v-2zM115 366v1h1v-1zM115 372v1h1v-1zM115 374v1h1v-1zM115 377v2h1v-2zM116 357v1h1v-1zM116 362v1h1v-1zM116 366v1h1v-1zM116 373v2h1v-2zM116 376v1h1v-1zM117 357v1h1v-1zM117 361v1h1v-1zM117 366v1h1v-1zM118 357v2h1v-2zM118 360v1h1v-1zM118 366v1h1v-1zM119 358v2h1v-2zM119 366v1h1v-1zM119 369v10h1v-10zM120 372v1h1v-1zM120 377v1h1v-1zM121 372v1h1v-1zM121 378v1h1v-1zM122 360v1h1v-1zM122 366v1h1v-1zM122 372v1h1v-1zM122 378v1h1v-1zM123 360v1h1v-1zM123 365v1h1v-1zM123 372v1h1v-1zM123 377v1h1v-1zM124 373v4h1v-4zM126 358v7h1v-7zM127 357v1h1v-1zM127 365v1h1v-1zM127 370v2h1v-2zM127 378v1h1v-1zM128 357v1h1v-1zM128 366v1h1v-1zM128 369v2h1v-2zM128 377v2h1v-2zM129 357v1h1v-1zM129 366v1h1v-1zM129 369v1h1v-1zM129 375v2h1v-2zM129 378v1h1v-1zM130 357v1h1v-1zM130 365v1h1v-1zM130 369v1h1v-1zM130 374v1h1v-1zM130 378v1h1v-1zM131 358v1h1v-1zM131 364v1h1v-1zM131 369v1h1v-1zM131 373v1h1v-1zM131 378v1h1v-1zM132 359v5h1v-5zM132 370v3h1v-3zM132 378v1h1v-1zM133 378v1h1v-1zM134 358v7h1v-7zM135 357v1h1v-1zM135 365v1h1v-1zM135 376v1h1v-1zM136 357v1h1v-1zM136 365v1h1v-1zM136 369v1h1v-1zM136 377v1h1v-1zM137 357v1h1v-1zM137 366v1h1v-1zM137 369v1h1v-1zM137 378v1h1v-1zM138 357v1h1v-1zM138 365v1h1v-1zM138 369v1h1v-1zM138 372v1h1v-1zM138 378v1h1v-1zM139 357v1h1v-1zM139 365v1h1v-1zM139 369v1h1v-1zM139 371v2h1v-2zM139 377v1h1v-1zM140 358v7h1v-7zM140 369v2h1v-2zM140 373v1h1v-1zM140 377v1h1v-1zM141 369v1h1v-1zM141 373v4h1v-4z"/></g>
<g id="xtick11" fill="#000000"><title>0:00 Feb24</title><path d="M179 369v10h1v-10zM180 369v1h1v-1zM180 373v1h1v-1zM181 369v1h1v-1zM181 373v1h1v-1zM182 369v1h1v-1zM182 373v1h1v-1zM183 369v1h1v-1zM183 373v1h1v-1zM184 369v1h1v-1zM185 369v1h1v-1zM187 373v4h1v-4zM188 358v7h1v-7zM188 372v1h1v-1zM188 374v1h1v-1zM188 377v1h1v-1zM189 357v1h1v-1zM189 365v1h1v-1zM189 372v1h1v-1zM189 374v1h1v-1zM189 378v1h1v-1zM190 357v1h1v-1zM190 366v1h1v-1zM190 372v1h1v-1zM190 374v1h1v-1zM190 378v1h1v-1zM191 357v1h1v-1zM191 366v1h1v-1zM191 372v3h1v-3zM191 377v1h1v-1zM192 357v1h1v-1zM192 365v1h1v-1zM192 373v2h1v-2zM192 376v1h1v-1zM193 358v7h1v-7zM194 369v10h1v-10zM195 372v1h1v-1zM195 377v1h1v-1zM196 360v1h1v-1zM196 366v1h1v-1zM196 372v1h1v-1zM196 378v1h1v-1zM197 360v1h1v-1zM197 365v1h1v-1zM197 372v1h1v-1zM197 378v1h1v-1zM198 372v1h1v-1zM198 377v1h1v-1zM199 373v1h1v-1zM199 376v1h1v-1zM200 360v3h1v-3zM200 374v2h1v-2zM201 357v3h1v-3zM201 363v3h1v-3zM202 357v1h1v-1zM202 365v1h1v-1zM202 370v2h1v-2zM202 378v1h1v-1zM203 357v1h1v-1zM203 366v1h1v-1zM203 369v2h1v-2zM203 377v2h1v-2zM204 357v1h1v-1zM204 366v1h1v-1zM204 369v1h1v-1zM204 375v2h1v-2zM204 378v1h1v-1zM205 357v1h1v-1zM205 365v1h1v-1zM205 369v1h1v-1zM205 374v1h1v-1zM205 378v1h1v-1zM206 358v7h1v-7zM206 369v1h1v-1zM206 373v1h1v-1zM206 378v1h1v-1zM207 369v2h1v-2zM207 372v1h1v-1zM207 378v1h1v-1zM208 370v2h1v-2zM208 378v1h1v-1zM209 358v7h1v-7zM210 357v1h1v-1zM210 365v1h1v-1zM210 375v1h1v-1zM211 357v1h1v-1zM211 366v1h1v-1zM211 374v2h1v-2zM212 357v1h1v-1zM212 366v1h1v-1zM212 373v1h1v-1zM212 375v1h1v-1zM213 357v1h1v-1zM213 365v1h1v-1zM213 371v2h1v-2zM213 375v1h1v-1zM214 358v7h1v-7zM214 370v1h1v-1zM214 375v1h1v-1zM215 369v10h1v-10zM216 375v1h1v-1zM217 375v1h1v-1z"/></g>
<g id="xtick17" fill="#000000"><title>12:00 Feb24</title><path d="M255 369v10h1v-10zM256 369v1h1v-1zM256 373v1h1v-1zM257 358v1h1v-1zM257 369v1h1v-1zM257 373v1h1v-1zM258 357v1h1v-1zM258 369v1h1v-1zM258 373v1h1v-1zM259 357v10h1v-10zM259 369v1h1v-1zM260 369v1h1v-1zM262 373v4h1v-4zM263 372v1h1v-1zM263 374v1h1v-1zM263 377v1h1v-1zM264 358v2h1v-2zM264 366v1h1v-1zM264 372v1h1v-1zM264 374v1h1v-1zM264 378v1h1v-1zM265 357v2h1v-2zM265 365v2h1v-2zM265 372v1h1v-1zM265 374v1h1v-1zM265 378v1h1v-1zM266 357v1h1v-1zM266 363v2h1v-2zM266 366v1h1v-1zM266 372v3h1v-3zM266 377v1h1v-1zM267 357v1h1v-1zM267 362v1h1v-1zM267 366v1h1v-1zM267 373v2h1v-2zM267 376v1h1v-1zM268 357v1h1v-1zM268 361v1h1v-1zM268 366v1h1v-1zM269 358v3h1v-3zM269 366v1h1v-1zM270 366v1h1v-1zM270 369v10h1v-10zM271 372v1h1v-1zM271 377v1h1v-1zM272 372v1h1v-1zM272 378v1h1v-1zM273 360v1h1v-1zM273 365v2h1v-2zM273 372v1h1v-1zM273 378v1h1v-1zM274 372v2h1v-2zM274 376v2h1v-2zM275 374v2h1v-2zM276 360v3h1v-3zM277 358v2h1v-2zM277 363v2h1v-2zM277 378v1h1v-1zM278 357v1h1v-1zM278 365v1h1v-1zM278 370v2h1v-2zM278 377v2h1v-2zM279 357v1h1v-1zM279 366v1h1v-1zM279 369v1h1v-1zM279 376v1h1v-1zM279 378v1h1v-1zM280 357v1h1v-1zM280 366v1h1v-1zM280 369v1h1v-1zM280 375v1h1v-1zM280 378v1h1v-1zM281 357v1h1v-1zM281 365v1h1v-1zM281 369v1h1v-1zM281 374v1h1v-1zM281 378v1h1v-1zM282 358v7h1v-7zM282 369v2h1v-2zM282 372v2h1v-2zM282 378v1h1v-1zM283 370v2h1v-2zM283 378v1h1v-1zM285 358v7h1v-7zM286 357v1h1v-1zM286 365v1h1v-1zM286 375v1h1v-1zM287 357v1h1v-1zM287 366v1h1v-1zM287 373v3h1v-3zM288 357v1h1v-1zM288 366v1h1v-1zM288 372v1h1v-1zM288 375v1h1v-1zM289 357v1h1v-1zM289 365v1h1v-1zM289 370v2h1v-2zM289 375v1h1v-1zM290 358v1h1v-1zM290 364v1h1v-1zM290 369v10h1v-10zM291 359v5h1v-5zM291 375v1h1v-1zM292 375v1h1v-1z"/></g>
<g id="xtick23" fill="#000000"><title>0:00 Feb25</title><path d="M330 369v10h1v-10zM331 369v1h1v-1zM331 373v1h1v-1zM332 369v1h1v-1zM332 373v1h1v-1zM333 369v1h1v-1zM333 373v1h1v-1zM334 369v1h1v-1zM335 369v1h1v-1zM336 369v1h1v-1zM337 374v2h1v-2zM338 360v3h1v-3zM338 372v3h1v-3zM338 376v2h1v-2zM339 358v2h1v-2zM339 363v2h1v-2zM339 372v1h1v-1zM339 374v1h1v-1zM339 378v1h1v-1zM340 357v1h1v-1zM340 365v1h1v-1zM340 372v1h1v-1zM340 374v1h1v-1zM340 378v1h1v-1zM341 357v1h1v-1zM341 366v1h1v-1zM341 372v1h1v-1zM341 374v1h1v-1zM341 377v2h1v-2zM342 357v1h1v-1zM342 366v1h1v-1zM342 373v2h1v-2zM342 376v1h1v-1zM343 357v1h1v-1zM343 365v1h1v-1zM344 358v7h1v-7zM345 369v10h1v-10zM346 372v1h1v-1zM346 377v1h1v-1zM347 360v1h1v-1zM347 366v1h1v-1zM347 372v1h1v-1zM347 378v1h1v-1zM348 360v1h1v-1zM348 365v1h1v-1zM348 372v1h1v-1zM348 378v1h1v-1zM349 372v1h1v-1zM349 377v1h1v-1zM350 373v4h1v-4zM351 358v7h1v-7zM352 357v1h1v-1zM352 365v1h1v-1zM353 357v1h1v-1zM353 366v1h1v-1zM353 370v2h1v-2zM353 378v1h1v-1zM354 357v1h1v-1zM354 366v1h1v-1zM354 369v2h1v-2zM354 377v2h1v-2zM355 357v1h1v-1zM355 365v1h1v-1zM355 369v1h1v-1zM355 375v2h1v-2zM355 378v1h1v-1zM356 358v1h1v-1zM356 364v1h1v-1zM356 369v1h1v-1zM356 374v1h1v-1zM356 378v1h1v-1zM357 359v5h1v-5zM357 369v1h1v-1zM357 373v1h1v-1zM357 378v1h1v-1zM358 370v3h1v-3zM358 378v1h1v-1zM359 360v3h1v-3zM359 378v1h1v-1zM360 358v2h1v-2zM360 363v2h1v-2zM361 357v1h1v-1zM361 365v1h1v-1zM361 376v1h1v-1zM362 357v1h1v-1zM362 366v1h1v-1zM362 369v5h1v-5zM362 377v1h1v-1zM363 357v1h1v-1zM363 366v1h1v-1zM363 369v1h1v-1zM363 372v1h1v-1zM363 378v1h1v-1zM364 357v1h1v-1zM364 365v1h1v-1zM364 369v1h1v-1zM364 372v1h1v-1zM364 378v1h1v-1zM365 358v7h1v-7zM365 369v1h1v-1zM365 372v1h1v-1zM365 378v1h1v-1zM366 369v1h1v-1zM366 372v1h1v-1zM366 377v1h1v-1zM367 373v4h1v-4z"/></g>
<g id="xtick29" fill="#000000"><title>12:00 Feb25</title><path d="M405 369v10h1v-10zM406 369v1h1v-1zM406 373v1h1v-1zM407 358v1h1v-1zM407 369v1h1v-1zM407 373v1h1v-1zM408 358v1h1v-1zM408 369v1h1v-1zM408 373v1h1v-1zM409 357v10h1v-10zM409 369v1h1v-1zM409 373v1h1v-1zM410 369v1h1v-1zM411 369v1h1v-1zM413 373v4h1v-4zM414 366v1h1v-1zM414 372v1h1v-1zM414 374v1h1v-1zM414 377v1h1v-1zM415 358v2h1v-2zM415 365v2h1v-2zM415 372v1h1v-1zM415 374v1h1v-1zM415 378v1h1v-1zM416 357v1h1v-1zM416 364v1h1v-1zM416 366v1h1v-1zM416 372v1h1v-1zM416 374v1h1v-1zM416 378v1h1v-1zM417 357v1h1v-1zM417 363v1h1v-1zM417 366v1h1v-1zM417 372v3h1v-3zM417 377v1h1v-1zM418 357v1h1v-1zM418 362v1h1v-1zM418 366v1h1v-1zM418 373v2h1v-2zM418 376v1h1v-1zM419 357v2h1v-2zM419 360v2h1v-2zM419 366v1h1v-1zM420 358v2h1v-2zM420 366v1h1v-1zM421 369v10h1v-10zM422 372v1h1v-1zM422 378v1h1v-1zM423 360v1h1v-1zM423 366v1h1v-1zM423 372v1h1v-1zM423 378v1h1v-1zM424 360v1h1v-1zM424 365v1h1v-1zM424 372v1h1v-1zM424 377v1h1v-1zM425 373v1h1v-1zM425 376v1h1v-1zM426 374v2h1v-2zM427 358v7h1v-7zM428 357v1h1v-1zM428 365v1h1v-1zM428 378v1h1v-1zM429 357v1h1v-1zM429 365v1h1v-1zM429 369v3h1v-3zM429 377v2h1v-2zM430 357v1h1v-1zM430 366v1h1v-1zM430 369v1h1v-1zM430 375v2h1v-2zM430 378v1h1v-1zM431 357v1h1v-1zM431 365v1h1v-1zM431 369v1h1v-1zM431 374v1h1v-1zM431 378v1h1v-1zM432 357v2h1v-2zM432 364v2h1v-2zM432 369v1h1v-1zM432 373v1h1v-1zM432 378v1h1v-1zM433 359v5h1v-5zM433 369v2h1v-2zM433 372v1h1v-1zM433 378v1h1v-1zM434 370v2h1v-2zM434 378v1h1v-1zM435 360v3h1v-3zM436 358v2h1v-2zM436 363v2h1v-2zM436 376v1h1v-1zM437 357v1h1v-1zM437 365v1h1v-1zM437 369v5h1v-5zM437 377v1h1v-1zM438 357v1h1v-1zM438 366v1h1v-1zM438 369v1h1v-1zM438 372v1h1v-1zM438 377v1h1v-1zM439 357v1h1v-1zM439 366v1h1v-1zM439 369v1h1v-1zM439 372v1h1v-1zM439 378v1h1v-1zM440 357v1h1v-1zM440 365v1h1v-1zM440 369v1h1v-1zM440 372v1h1v-1zM440 378v1h1v-1zM441 358v7h1v-7zM441 369v1h1v-1zM441 372v1h1v-1zM441 377v1h1v-1zM442 369v1h1v-1zM442 373v4h1v-4z"/></g>
<g id="xtick35" fill="#000000"><title>0:00 Feb26</title><path d="M481 369v10h1v-10zM482 369v1h1v-1zM482 373v1h1v-1zM483 369v1h1v-1zM483 373v1h1v-1zM484 369v1h1v-1zM484 373v1h1v-1zM485 369v1h1v-1zM486 369v1h1v-1zM488 373v4h1v-4zM489 358v7h1v-7zM489 372v1h1v-1zM489 374v1h1v-1zM489 377v1h1v-1zM490 357v1h1v-1zM490 365v1h1v-1zM490 372v1h1v-1zM490 374v1h1v-1zM490 378v1h1v-1zM491 357v1h1v-1zM491 366v1h1v-1zM491 372v1h1v-1zM491 374v1h1v-1zM491 378v1h1v-1zM492 357v1h1v-1zM492 366v1h1v-1zM492 372v1h1v-1zM492 374v1h1v-1zM492 377v1h1v-1zM493 357v1h1v-1zM493 365v1h1v-1zM493 373v2h1v-2zM493 376v1h1v-1zM494 357v2h1v-2zM494 364v2h1v-2zM495 359v5h1v-5zM496 369v10h1v-10zM497 372v1h1v-1zM497 377v1h1v-1zM498 360v1h1v-1zM498 366v1h1v-1zM498 372v1h1v-1zM498 378v1h1v-1zM499 360v1h1v-1zM499 365v1h1v-1zM499 372v1h1v-1zM499 378v1h1v-1zM500 372v2h1v-2zM500 376v2h1v-2zM501 374v2h1v-2zM502 358v7h1v-7zM503 357v1h1v-1zM503 365v1h1v-1zM503 378v1h1v-1zM504 357v1h1v-1zM504 366v1h1v-1zM504 370v2h1v-2zM504 377v2h1v-2zM505 357v1h1v-1zM505 366v1h1v-1zM505 369v1h1v-1zM505 376v1h1v-1zM505 378v1h1v-1zM506 357v1h1v-1zM506 365v1h1v-1zM506 369v1h1v-1zM506 375v1h1v-1zM506 378v1h1v-1zM507 358v7h1v-7zM507 369v1h1v-1zM507 374v1h1v-1zM507 378v1h1v-1zM508 369v2h1v-2zM508 372v2h1v-2zM508 378v1h1v-1zM509 370v2h1v-2zM509 378v1h1v-1zM510 358v7h1v-7zM511 357v1h1v-1zM511 365v1h1v-1zM512 357v1h1v-1zM512 366v1h1v-1zM512 372v4h1v-4zM513 357v1h1v-1zM513 366v1h1v-1zM513 370v2h1v-2zM513 373v2h1v-2zM513 376v1h1v-1zM514 357v1h1v-1zM514 365v1h1v-1zM514 369v1h1v-1zM514 373v1h1v-1zM514 377v1h1v-1zM515 357v2h1v-2zM515 364v2h1v-2zM515 369v1h1v-1zM515 372v1h1v-1zM515 378v1h1v-1zM516 359v5h1v-5zM516 369v1h1v-1zM516 373v1h1v-1zM516 377v1h1v-1zM517 369v2h1v-2zM517 373v1h1v-1zM517 376v1h1v-1zM518 374v2h1v-2z"/></g>
<g id="plotccmc" fill="#000000"><title>Plot: CCMC</title><path d="M7 386v10h1v-10zM8 386v1h1v-1zM8 391v1h1v-1zM9 386v1h1v-1zM9 391v1h1v-1zM10 386v1h1v-1zM10 391v1h1v-1zM11 386v1h1v-1zM11 391v1h1v-1zM12 387v1h1v-1zM12 391v1h1v-1zM13 387v4h1v-4zM16 386v10h1v-10zM19 392v2h1v-2zM20 390v2h1v-2zM20 394v2h1v-2zM21 389v1h1v-1zM21 395v1h1v-1zM22 389v1h1v-1zM22 395v1h1v-1zM23 389v2h1v-2zM23 395v1h1v-1zM24 391v1h1v-1zM24 394v1h1v-1zM25 392v2h1v-2zM27 389v1h1v-1zM28 386v10h1v-10zM29 389v1h1v-1zM29 395v1h1v-1zM30 389v1h1v-1zM30 395v1h1v-1zM33 389v2h1v-2zM33 394v2h1v-2zM43 390v3h1v-3zM44 388v2h1v-2zM44 393v2h1v-2zM45 387v1h1v-1zM45 395v1h1v-1zM46 386v1h1v-1zM46 395v1h1v-1zM47 386v1h1v-1zM47 395v1h1v-1zM48 387v1h1v-1zM48 395v1h1v-1zM49 388v1h1v-1zM49 393v2h1v-2zM52 388v6h1v-6zM53 388v1h1v-1zM53 394v1h1v-1zM54 386v2h1v-2zM54 395v1h1v-1zM55 386v1h1v-1zM55 395v1h1v-1zM56 386v1h1v-1zM56 395v1h1v-1zM57 387v1h1v-1zM57 395v1h1v-1zM58 388v1h1v-1zM58 393v2h1v-2zM61 386v10h1v-10zM62 388v2h1v-2zM63 390v2h1v-2zM64 392v2h1v-2zM65 394v2h1v-2zM66 391v3h1v-3zM67 388v3h1v-3zM68 386v10h1v-10zM71 388v6h1v-6zM72 387v2h1v-2zM72 394v2h1v-2zM73 386v1h1v-1zM73 395v1h1v-1zM74 386v1h1v-1zM74 395v1h1v-1zM75 386v1h1v-1zM75 395v1h1v-1zM76 387v1h1v-1zM76 395v1h1v-1zM77 388v1h1v-1zM77 393v2h1v-2z"/></g>
<g id="xtitle" fill="#000000"><title>Date and Time</title><path d="M239 386v10h1v-10zM240 386v1h1v-1zM240 395v1h1v-1zM241 386v1h1v-1zM241 395v1h1v-1zM242 386v1h1v-1zM242 395v1h1v-1zM243 387v1h1v-1zM243 395v1h1v-1zM244 388v1h1v-1zM244 393v2h1v-2zM245 389v4h1v-4zM247 391v4h1v-4zM248 390v1h1v-1zM248 395v1h1v-1zM249 389v1h1v-1zM249 395v1h1v-1zM250 389v1h1v-1zM250 395v1h1v-1zM251 390v1h1v-1zM251 395v1h1v-1zM252 389v7h1v-7zM255 389v1h1v-1zM256 386v10h1v-10zM257 389v1h1v-1zM257 395v1h1v-1zM258 389v1h1v-1zM258 395v1h1v-1zM260 391v4h1v-4zM261 390v1h1v-1zM261 392v1h1v-1zM261 395v1h1v-1zM262 389v1h1v-1zM262 392v1h1v-1zM262 395v1h1v-1zM263 389v1h1v-1zM263 392v1h1v-1zM263 395v1h1v-1zM264 390v1h1v-1zM264 392v1h1v-1zM264 395v1h1v-1zM265 390v3h1v-3zM265 394v1h1v-1zM274 392v2h1v-2zM275 391v1h1v-1zM275 394v1h1v-1zM276 389v2h1v-2zM276 395v1h1v-1zM277 389v1h1v-1zM277 395v1h1v-1zM278 389v1h1v-1zM278 395v1h1v-1zM279 389v7h1v-7zM283 389v7h1v-7zM284 390v1h1v-1zM285 389v1h1v-1zM286 389v1h1v-1zM287 390v6h1v-6zM290 392v2h1v-2zM291 391v1h1v-1zM291 394v1h1v-1zM292 389v2h1v-2zM292 395v1h1v-1zM293 389v1h1v-1zM293 395v1h1v-1zM294 389v2h1v-2zM294 395v1h1v-1zM295 386v10h1v-10zM304 386v1h1v-1zM305 386v1h1v-1zM306 386v1h1v-1zM307 386v10h1v-10zM308 386v1h1v-1zM309 386v1h1v-1zM310 386v1h1v-1zM312 386v2h1v-2zM312 389v7h1v-7zM313 386v1h1v-1zM315 389v7h1v-7zM316 390v1h1v-1zM317 390v1h1v-1zM318 389v1h1v-1zM319 389v1h1v-1zM320 390v6h1v-6zM321 390v1h1v-1zM322 389v1h1v-1zM323 389v1h1v-1zM324 390v1h1v-1zM325 391v5h1v-5zM328 391v4h1v-4zM329 390v1h1v-1zM329 392v1h1v-1zM329 395v1h1v-1zM330 389v1h1v-1zM330 392v1h1v-1zM330 395v1h1v-1zM331 389v1h1v-1zM331 392v1h1v-1zM331 395v1h1v-1zM332 390v1h1v-1zM332 392v1h1v-1zM332 395v1h1v-1zM333 391v2h1v-2zM333 394v1h1v-1z"/></g>
<g id="stamp" fill="#000000"><title>2015/02/26 02:00:20</title><path d="M445 388v2h1v-2zM445 395v1h1v-1zM446 387v2h1v-2zM446 394v2h1v-2zM447 387v1h1v-1zM447 392v2h1v-2zM447 395v1h1v-1zM448 387v1h1v-1zM448 391v1h1v-1zM448 395v1h1v-1zM449 388v1h1v-1zM449 390v1h1v-1zM449 395v1h1v-1zM450 389v2h1v-2zM450 395v1h1v-1zM452 391v2h1v-2zM453 388v3h1v-3zM453 393v3h1v-3zM454 387v1h1v-1zM454 395v1h1v-1zM455 387v1h1v-1zM455 395v1h1v-1zM456 388v1h1v-1zM456 395v1h1v-1zM457 389v6h1v-6zM461 389v1h1v-1zM462 388v1h1v-1zM463 387v9h1v-9zM467 394v1h1v-1zM468 387v5h1v-5zM468 394v2h1v-2zM469 387v1h1v-1zM469 390v1h1v-1zM469 395v1h1v-1zM470 387v1h1v-1zM470 390v1h1v-1zM470 395v1h1v-1zM471 387v1h1v-1zM471 390v1h1v-1zM471 395v1h1v-1zM472 387v1h1v-1zM472 391v1h1v-1zM472 394v1h1v-1zM473 392v2h1v-2zM475 398v1h1v-1zM476 396v2h1v-2zM477 394v2h1v-2zM478 392v2h1v-2zM479 390v2h1v-2zM480 388v2h1v-2zM481 386v2h1v-2zM483 391v2h1v-2zM484 388v3h1v-3zM484 393v3h1v-3zM485 387v1h1v-1zM485 395v1h1v-1zM486 387v1h1v-1zM486 395v1h1v-1zM487 388v1h1v-1zM487 395v1h1v-1zM488 389v1h1v-1zM488 394v1h1v-1zM489 390v4h1v-4zM491 389v1h1v-1zM491 395v1h1v-1zM492 388v1h1v-1zM492 394v2h1v-2zM493 387v1h1v-1zM493 393v1h1v-1zM493 395v1h1v-1zM494 387v1h1v-1zM494 392v1h1v-1zM494 395v1h1v-1zM495 388v1h1v-1zM495 390v2h1v-2zM495 395v1h1v-1zM496 389v2h1v-2zM496 395v1h1v-1zM498 398v1h1v-1zM499 396v2h1v-2zM500 394v2h1v-2zM501 393v1h1v-1zM502 391v2h1v-2zM503 389v2h1v-2zM504 387v2h1v-2zM505 386v1h1v-1zM507 388v2h1v-2zM507 395v1h1v-1zM508 388v1h1v-1zM508 394v2h1v-2zM509 387v1h1v-1zM509 393v1h1v-1zM509 395v1h1v-1zM510 387v1h1v-1zM510 392v1h1v-1zM510 395v1h1v-1zM511 388v1h1v-1zM511 390v2h1v-2zM511 395v1h1v-1zM512 389v2h1v-2zM512 395v1h1v-1zM515 389v6h1v-6zM516 388v1h1v-1zM516 391v1h1v-1zM516 395v1h1v-1zM517 387v1h1v-1zM517 390v1h1v-1zM517 395v1h1v-1zM518 387v1h1v-1zM518 391v1h1v-1zM518 395v1h1v-1zM519 388v1h1v-1zM519 391v1h1v-1zM519 394v1h1v-1zM520 392v2h1v-2zM528 389v6h1v-6zM529 388v1h1v-1zM529 395v1h1v-1zM530 387v1h1v-1zM530 395v1h1v-1zM531 387v1h1v-1zM531 395v1h1v-1zM532 388v1h1v-1zM532 395v1h1v-1zM533 389v6h1v-6zM536 388v2h1v-2zM536 395v1h1v-1zM537 387v2h1v-2zM537 394v2h1v-2zM538 387v1h1v-1zM538 392v2h1v-2zM538 395v1h1v-1zM539 387v1h1v-1zM539 391v1h1v-1zM539 395v1h1v-1zM540 388v3h1v-3zM540 395v1h1v-1zM541 395v1h1v-1zM543 391v1h1v-1zM543 395v1h1v-1zM544 390v1h1v-1zM544 394v1h1v-1zM547 389v6h1v-6zM548 388v1h1v-1zM548 395v1h1v-1zM549 387v1h1v-1zM549 395v1h1v-1zM550 387v1h1v-1zM550 395v1h1v-1zM551 388v1h1v-1zM551 395v1h1v-1zM552 389v6h1v-6zM554 391v2h1v-2zM555 389v2h1v-2zM555 393v2h1v-2zM556 388v1h1v-1zM556 395v1h1v-1zM557 387v1h1v-1zM557 395v1h1v-1zM558 387v1h1v-1zM558 395v1h1v-1zM559 388v2h1v-2zM559 394v2h1v-2zM560 390v4h1v-4zM562 391v1h1v-1zM562 395v1h1v-1zM563 390v1h1v-1zM563 394v1h1v-1zM566 389v1h1v-1zM566 395v1h1v-1zM567 388v1h1v-1zM567 394v2h1v-2zM568 387v1h1v-1zM568 393v1h1v-1zM568 395v1h1v-1zM569 387v1h1v-1zM569 392v1h1v-1zM569 395v1h1v-1zM570 388v1h1v-1zM570 390v2h1v-2zM570 395v1h1v-1zM571 389v2h1v-2zM571 395v1h1v-1zM573 391v2h1v-2zM574 389v2h1v-2zM574 393v2h1v-2zM575 388v1h1v-1zM575 395v1h1v-1zM576 387v1h1v-1zM576 395v1h1v-1zM577 387v1h1v-1zM577 395v1h1v-1zM578 388v2h1v-2zM578 394v2h1v-2zM579 390v4h1v-4z"/></g>
<g id="leg-METP-02" fill="#000000"><title>METP-02</title><path d="M527 48v9h1v-9zM528 50v2h1v-2zM529 52v3h1v-3zM530 55v2h1v-2zM531 53v2h1v-2zM532 50v3h1v-3zM533 48v9h1v-9zM537 48v9h1v-9zM538 48v1h1v-1zM538 52v1h1v-1zM538 56v1h1v-1zM539 48v1h1v-1zM539 52v1h1v-1zM539 56v1h1v-1zM540 48v1h1v-1zM540 52v1h1v-1zM540 56v1h1v-1zM541 48v1h1v-1zM541 56v1h1v-1zM542 48v1h1v-1zM542 56v1h1v-1zM544 48v1h1v-1zM545 48v1h1v-1zM546 48v9h1v-9zM547 48v1h1v-1zM548 48v1h1v-1zM549 48v1h1v-1zM552 48v9h1v-9zM553 48v1h1v-1zM553 52v1h1v-1zM554 48v1h1v-1zM554 52v1h1v-1zM555 48v1h1v-1zM555 52v1h1v-1zM556 48v1h1v-1zM556 52v1h1v-1zM557 48v5h1v-5zM560 53v1h1v-1zM561 53v1h1v-1zM562 53v1h1v-1zM563 53v1h1v-1zM564 53v1h1v-1zM565 53v1h1v-1zM566 53v1h1v-1zM567 53v1h1v-1zM568 53v1h1v-1zM571 49v7h1v-7zM572 48v1h1v-1zM572 56v1h1v-1zM573 48v1h1v-1zM573 56v1h1v-1zM574 48v1h1v-1zM574 56v1h1v-1zM575 48v1h1v-1zM575 56v1h1v-1zM576 49v1h1v-1zM576 55v1h1v-1zM577 50v5h1v-5zM579 56v1h1v-1zM580 48v3h1v-3zM580 55v2h1v-2zM581 48v1h1v-1zM581 54v1h1v-1zM581 56v1h1v-1zM582 48v1h1v-1zM582 53v1h1v-1zM582 56v1h1v-1zM583 48v1h1v-1zM583 52v1h1v-1zM583 56v1h1v-1zM584 48v1h1v-1zM584 51v1h1v-1zM584 56v1h1v-1zM585 49v2h1v-2zM585 56v1h1v-1z"/></g>
<g id="leg-NOAA-15" fill="#0000ff"><title>NOAA-15</title><path d="M527 69v10h1v-10zM528 70v2h1v-2zM529 72v1h1v-1zM530 73v2h1v-2zM531 75v1h1v-1zM532 76v2h1v-2zM533 69v10h1v-10zM536 71v7h1v-7zM537 70v1h1v-1zM537 78v1h1v-1zM538 69v1h1v-1zM538 78v1h1v-1zM539 69v1h1v-1zM539 78v1h1v-1zM540 69v1h1v-1zM540 78v1h1v-1zM541 70v2h1v-2zM541 77v2h1v-2zM542 71v6h1v-6zM544 77v2h1v-2zM545 74v3h1v-3zM546 71v3h1v-3zM546 75v1h1v-1zM547 69v2h1v-2zM547 75v1h1v-1zM548 71v2h1v-2zM548 75v1h1v-1zM549 73v3h1v-3zM550 75v2h1v-2zM551 77v2h1v-2zM552 77v2h1v-2zM553 74v3h1v-3zM554 71v3h1v-3zM554 75v1h1v-1zM555 69v2h1v-2zM555 75v1h1v-1zM556 71v3h1v-3zM556 75v1h1v-1zM557 74v3h1v-3zM558 77v2h1v-2zM560 74v1h1v-1zM561 74v1h1v-1zM562 74v1h1v-1zM563 74v1h1v-1zM564 74v1h1v-1zM565 74v1h1v-1zM566 74v1h1v-1zM567 74v1h1v-1zM568 74v1h1v-1zM572 71v1h1v-1zM573 71v1h1v-1zM574 69v10h1v-10zM579 76v1h1v-1zM580 69v5h1v-5zM580 77v2h1v-2zM581 69v1h1v-1zM581 72v1h1v-1zM581 78v1h1v-1zM582 69v1h1v-1zM582 72v1h1v-1zM582 78v1h1v-1zM583 69v1h1v-1zM583 72v1h1v-1zM583 78v1h1v-1zM584 69v1h1v-1zM584 73v1h1v-1zM584 78v1h1v-1zM585 73v5h1v-5z"/></g>
<g id="leg-NOAA-16" fill="#00b0ff"><title>NOAA-16</title><path d="M527 90v10h1v-10zM528 91v2h1v-2zM529 93v1h1v-1zM530 94v2h1v-2zM531 96v1h1v-1zM532 97v2h1v-2zM533 90v10h1v-10zM536 91v8h1v-8zM537 91v1h1v-1zM537 99v1h1v-1zM538 90v1h1v-1zM538 99v1h1v-1zM539 90v1h1v-1zM539 99v1h1v-1zM540 90v1h1v-1zM540 99v1h1v-1zM541 91v1h1v-1zM541 98v2h1v-2zM542 92v6h1v-6zM544 98v2h1v-2zM545 95v3h1v-3zM546 92v3h1v-3zM546 96v1h1v-1zM547 90v2h1v-2zM547 96v1h1v-1zM548 92v2h1v-2zM548 96v1h1v-1zM549 94v3h1v-3zM550 96v2h1v-2zM551 98v2h1v-2zM552 98v2h1v-2zM553 95v3h1v-3zM554 92v3h1v-3zM554 96v1h1v-1zM555 90v2h1v-2zM555 96v1h1v-1zM556 92v3h1v-3zM556 96v1h1v-1zM557 95v3h1v-3zM558 98v2h1v-2zM560 95v1h1v-1zM561 95v1h1v-1zM562 95v1h1v-1zM563 95v1h1v-1zM564 95v1h1v-1zM565 95v1h1v-1zM566 95v1h1v-1zM567 95v1h1v-1zM568 95v1h1v-1zM572 92v1h1v-1zM573 91v1h1v-1zM574 90v10h1v-10zM580 92v7h1v-7zM581 91v1h1v-1zM581 94v1h1v-1zM581 99v1h1v-1zM582 90v1h1v-1zM582 94v1h1v-1zM582 99v1h1v-1zM583 90v1h1v-1zM583 94v1h1v-1zM583 99v1h1v-1zM584 91v1h1v-1zM584 94v1h1v-1zM584 99v1h1v-1zM585 91v1h1v-1zM585 95v4h1v-4z"/></g>
<g id="leg-NOAA-18" fill="#00ff54"><title>NOAA-18</title><path d="M527 112v10h1v-10zM528 113v2h1v-2zM529 115v1h1v-1zM530 116v2h1v-2zM531 118v1h1v-1zM532 119v2h1v-2zM533 112v10h1v-10zM536 113v8h1v-8zM537 112v1h1v-1zM537 120v1h1v-1zM538 112v1h1v-1zM538 121v1h1v-1zM539 112v1h1v-1zM539 121v1h1v-1zM540 112v1h1v-1zM540 121v1h1v-1zM541 112v2h1v-2zM541 120v1h1v-1zM542 114v6h1v-6zM544 120v2h1v-2zM545 117v3h1v-3zM546 114v3h1v-3zM546 118v1h1v-1zM547 112v2h1v-2zM547 118v1h1v-1zM548 114v2h1v-2zM548 118v1h1v-1zM549 116v3h1v-3zM550 118v2h1v-2zM551 120v2h1v-2zM552 120v2h1v-2zM553 117v3h1v-3zM554 114v3h1v-3zM554 118v1h1v-1zM555 112v2h1v-2zM555 118v1h1v-1zM556 114v3h1v-3zM556 118v1h1v-1zM557 117v3h1v-3zM558 120v2h1v-2zM560 117v1h1v-1zM561 117v1h1v-1zM562 117v1h1v-1zM563 117v1h1v-1zM564 117v1h1v-1zM565 117v1h1v-1zM566 117v1h1v-1zM567 117v1h1v-1zM568 117v1h1v-1zM572 114v1h1v-1zM573 113v1h1v-1zM574 112v10h1v-10zM579 118v2h1v-2zM580 112v6h1v-6zM580 120v1h1v-1zM581 112v1h1v-1zM581 115v2h1v-2zM581 121v1h1v-1zM582 112v1h1v-1zM582 115v2h1v-2zM582 121v1h1v-1zM583 112v1h1v-1zM583 115v2h1v-2zM583 121v1h1v-1zM584 112v1h1v-1zM584 115v2h1v-2zM584 120v1h1v-1zM585 113v2h1v-2zM585 117v4h1v-4z"/></g>
<g id="leg-NOAA-19" fill="#ff8000"><title>NOAA-19</title><path d="M527 133v10h1v-10zM528 134v2h1v-2zM529 136v1h1v-1zM530 137v2h1v-2zM531 139v1h1v-1zM532 140v2h1v-2zM533 133v10h1v-10zM536 134v8h1v-8zM537 134v1h1v-1zM537 142v1h1v-1zM538 133v1h1v-1zM538 142v1h1v-1zM539 133v1h1v-1zM539 142v1h1v-1zM540 133v1h1v-1zM540 142v1h1v-1zM541 134v1h1v-1zM541 141v2h1v-2zM542 135v6h1v-6zM544 141v2h1v-2zM545 138v3h1v-3zM546 135v3h1v-3zM546 139v1h1v-1zM547 133v2h1v-2zM547 139v1h1v-1zM548 135v2h1v-2zM548 139v1h1v-1zM549 137v3h1v-3zM550 139v2h1v-2zM551 141v2h1v-2zM552 141v2h1v-2zM553 138v3h1v-3zM554 135v3h1v-3zM554 139v1h1v-1zM555 133v2h1v-2zM555 139v1h1v-1zM556 135v3h1v-3zM556 139v1h1v-1zM557 138v3h1v-3zM558 141v2h1v-2zM560 138v1h1v-1zM561 138v1h1v-1zM562 138v1h1v-1zM563 138v1h1v-1zM564 138v1h1v-1zM565 138v1h1v-1zM566 138v1h1v-1zM567 138v1h1v-1zM568 138v1h1v-1zM572 135v1h1v-1zM573 134v1h1v-1zM574 133v10h1v-10zM579 136v1h1v-1zM580 134v2h1v-2zM580 137v2h1v-2zM580 141v2h1v-2zM581 133v1h1v-1zM581 138v1h1v-1zM581 142v1h1v-1zM582 133v1h1v-1zM582 139v1h1v-1zM582 142v1h1v-1zM583 134v1h1v-1zM583 138v1h1v-1zM583 142v1h1v-1zM584 134v1h1v-1zM584 137v1h1v-1zM584 140v2h1v-2zM585 135v5h1v-5z"/></g>
<g id="leg-ov1" fill="#0044ff"><title>- Ovation</title><path d="M531 215v1h1v-1zM532 215v1h1v-1zM533 215v1h1v-1zM534 215v1h1v-1zM535 215v1h1v-1zM536 215v1h1v-1zM537 215v1h1v-1zM538 215v1h1v-1zM539 215v1h1v-1zM548 214v3h1v-3zM549 212v2h1v-2zM549 217v2h1v-2zM550 211v1h1v-1zM550 219v1h1v-1zM551 210v1h1v-1zM551 219v1h1v-1zM552 210v1h1v-1zM552 219v1h1v-1zM553 210v2h1v-2zM553 219v1h1v-1zM554 212v1h1v-1zM554 218v1h1v-1zM555 212v6h1v-6zM557 213v1h1v-1zM558 214v2h1v-2zM559 216v2h1v-2zM560 218v2h1v-2zM561 215v3h1v-3zM562 213v2h1v-2zM564 216v2h1v-2zM565 215v1h1v-1zM565 218v1h1v-1zM566 213v2h1v-2zM566 219v1h1v-1zM567 213v1h1v-1zM567 219v1h1v-1zM568 213v1h1v-1zM568 219v1h1v-1zM569 213v7h1v-7zM572 213v1h1v-1zM573 210v9h1v-9zM574 213v1h1v-1zM574 219v1h1v-1zM575 213v1h1v-1zM575 219v1h1v-1zM577 210v1h1v-1zM578 210v2h1v-2zM578 213v7h1v-7zM581 215v4h1v-4zM582 214v1h1v-1zM582 219v1h1v-1zM583 213v1h1v-1zM583 219v1h1v-1zM584 213v1h1v-1zM584 219v1h1v-1zM585 214v1h1v-1zM585 219v1h1v-1zM586 215v4h1v-4zM589 213v7h1v-7zM590 214v1h1v-1zM591 213v1h1v-1zM592 213v1h1v-1zM593 214v1h1v-1zM594 215v5h1v-5z"/></g>
<g id="leg-ov2" fill="#0044ff"><title>Prime HPI</title><path d="M527 222v10h1v-10zM528 222v1h1v-1zM528 227v1h1v-1zM529 222v1h1v-1zM529 227v1h1v-1zM530 222v1h1v-1zM530 227v1h1v-1zM531 222v1h1v-1zM531 227v1h1v-1zM532 222v2h1v-2zM532 226v1h1v-1zM533 224v2h1v-2zM536 225v7h1v-7zM537 225v1h1v-1zM538 225v1h1v-1zM539 225v1h1v-1zM541 222v1h1v-1zM541 225v7h1v-7zM544 225v7h1v-7zM545 226v1h1v-1zM546 225v1h1v-1zM547 225v1h1v-1zM548 225v1h1v-1zM549 225v7h1v-7zM550 225v2h1v-2zM551 225v1h1v-1zM552 225v1h1v-1zM553 225v1h1v-1zM554 226v6h1v-6zM557 226v5h1v-5zM558 225v1h1v-1zM558 227v1h1v-1zM558 230v1h1v-1zM559 225v1h1v-1zM559 227v1h1v-1zM559 231v1h1v-1zM560 225v1h1v-1zM560 227v1h1v-1zM560 231v1h1v-1zM561 225v3h1v-3zM561 230v1h1v-1zM562 227v1h1v-1zM562 230v1h1v-1zM571 222v10h1v-10zM572 226v1h1v-1zM573 226v1h1v-1zM574 226v1h1v-1zM575 226v1h1v-1zM576 226v1h1v-1zM577 222v10h1v-10zM580 222v10h1v-10zM581 222v1h1v-1zM581 227v1h1v-1zM582 222v1h1v-1zM582 227v1h1v-1zM583 222v1h1v-1zM583 227v1h1v-1zM584 222v1h1v-1zM584 227v1h1v-1zM585 222v1h1v-1zM585 226v1h1v-1zM586 222v5h1v-5zM589 222v10h1v-10z"/></g>
<g id="leg-south" fill="#000000"><title>+ south</title><path d="M527 307v1h1v-1zM528 307v1h1v-1zM529 307v1h1v-1zM530 307v1h1v-1zM531 303v9h1v-9zM532 307v1h1v-1zM533 307v1h1v-1zM534 307v1h1v-1zM544 305v3h1v-3zM544 309v2h1v-2zM545 305v1h1v-1zM545 307v1h1v-1zM545 310v1h1v-1zM546 305v1h1v-1zM546 307v1h1v-1zM546 311v1h1v-1zM547 305v1h1v-1zM547 308v1h1v-1zM547 311v1h1v-1zM548 305v1h1v-1zM548 308v1h1v-1zM548 310v1h1v-1zM549 306v1h1v-1zM549 309v1h1v-1zM551 307v2h1v-2zM552 305v2h1v-2zM552 309v2h1v-2zM553 305v1h1v-1zM553 311v1h1v-1zM554 305v1h1v-1zM554 311v1h1v-1zM555 305v1h1v-1zM555 310v1h1v-1zM556 306v1h1v-1zM556 309v1h1v-1zM557 307v2h1v-2zM559 305v5h1v-5zM560 310v1h1v-1zM561 311v1h1v-1zM562 311v1h1v-1zM563 310v1h1v-1zM564 305v7h1v-7zM567 305v1h1v-1zM568 302v9h1v-9zM569 305v1h1v-1zM569 311v1h1v-1zM570 305v1h1v-1zM570 311v1h1v-1zM573 302v10h1v-10zM574 305v2h1v-2zM575 305v1h1v-1zM576 305v1h1v-1zM577 305v7h1v-7z"/></g>
<g id="leg-north" fill="#000000"><title>* north</title><path d="M526 336v1h1v-1zM526 339v1h1v-1zM527 337v2h1v-2zM528 335v6h1v-6zM529 337v2h1v-2zM530 337v2h1v-2zM531 336v1h1v-1zM531 339v1h1v-1zM540 336v6h1v-6zM541 336v1h1v-1zM542 336v1h1v-1zM543 336v1h1v-1zM544 336v1h1v-1zM545 337v5h1v-5zM548 337v4h1v-4zM549 336v1h1v-1zM549 341v1h1v-1zM550 336v1h1v-1zM550 341v1h1v-1zM551 336v1h1v-1zM551 341v1h1v-1zM552 336v1h1v-1zM552 341v1h1v-1zM553 337v4h1v-4zM556 336v6h1v-6zM557 336v2h1v-2zM558 336v1h1v-1zM559 336v1h1v-1zM561 336v1h1v-1zM562 333v9h1v-9zM563 336v1h1v-1zM563 341v1h1v-1zM564 336v1h1v-1zM564 341v1h1v-1zM567 333v9h1v-9zM568 336v1h1v-1zM569 336v1h1v-1zM570 336v1h1v-1zM571 336v6h1v-6z"/></g>
</svg>
</body>
</html>
